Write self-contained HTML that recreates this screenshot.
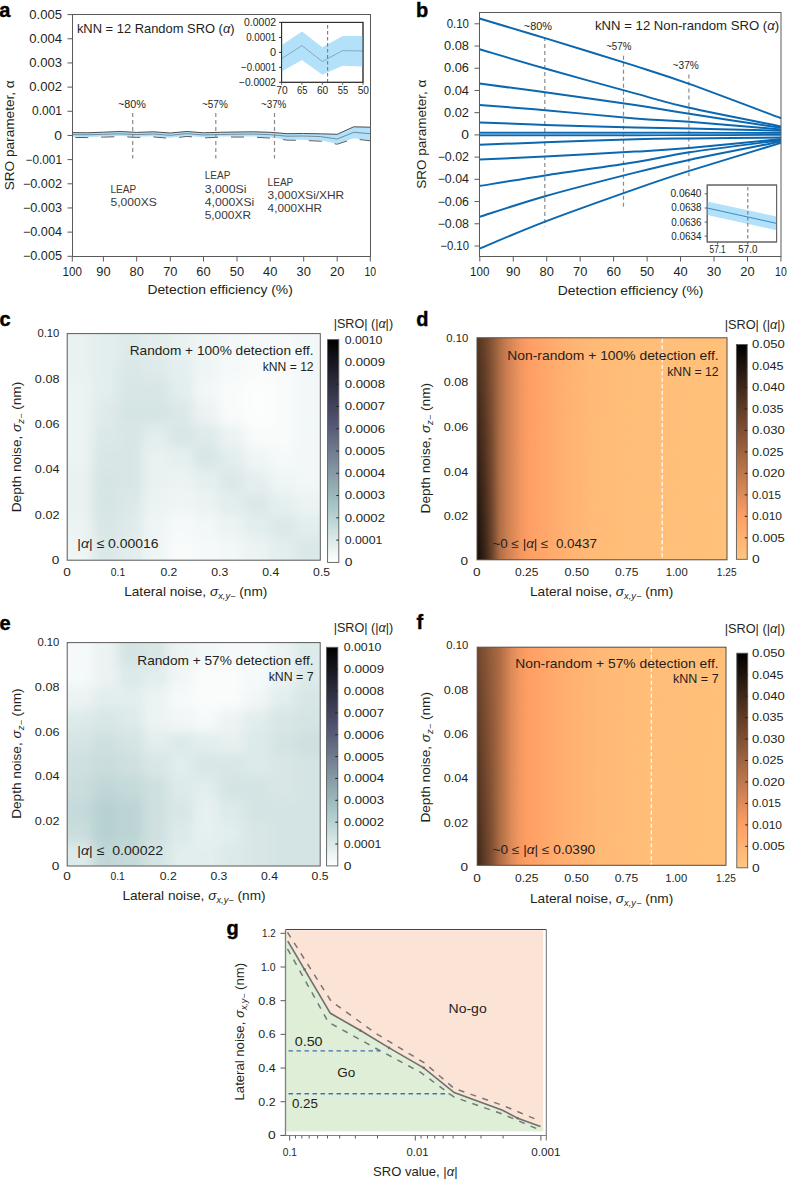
<!DOCTYPE html>
<html><head><meta charset="utf-8"><title>Figure</title>
<style>
html,body{margin:0;padding:0;background:#fff;}
svg{display:block;}
text{font-family:"Liberation Sans",sans-serif;fill:#231f20;}
</style></head>
<body>
<svg width="787" height="1179" viewBox="0 0 787 1179">
<defs><clipPath id="hcc"><rect x="67.20" y="333.60" width="253.10" height="226.60"/></clipPath><filter id="hcf" x="-50%" y="-50%" width="200%" height="200%"><feGaussianBlur stdDeviation="6"/></filter><linearGradient id="cbc" x1="0" y1="0" x2="0" y2="1"><stop offset="0.000" stop-color="#000000"/><stop offset="0.050" stop-color="#0b0b10"/><stop offset="0.100" stop-color="#16161f"/><stop offset="0.150" stop-color="#21212f"/><stop offset="0.200" stop-color="#2d2d3e"/><stop offset="0.250" stop-color="#38384e"/><stop offset="0.300" stop-color="#43435d"/><stop offset="0.350" stop-color="#4e4e6d"/><stop offset="0.400" stop-color="#595c79"/><stop offset="0.450" stop-color="#646c84"/><stop offset="0.500" stop-color="#707b8f"/><stop offset="0.550" stop-color="#7b8a9b"/><stop offset="0.600" stop-color="#869aa6"/><stop offset="0.650" stop-color="#91a9b1"/><stop offset="0.700" stop-color="#9cb8bc"/><stop offset="0.750" stop-color="#a8c7c7"/><stop offset="0.800" stop-color="#b9d2d2"/><stop offset="0.850" stop-color="#cbdede"/><stop offset="0.900" stop-color="#dce9e9"/><stop offset="0.950" stop-color="#eef4f4"/><stop offset="1.000" stop-color="#ffffff"/></linearGradient><linearGradient id="hdt" x1="0" y1="0" x2="1" y2="0"><stop offset="0.0000" stop-color="#533421"/><stop offset="0.0320" stop-color="#6c442b"/><stop offset="0.0600" stop-color="#895637"/><stop offset="0.0896" stop-color="#ac6c45"/><stop offset="0.1200" stop-color="#cc7f51"/><stop offset="0.1440" stop-color="#dc8958"/><stop offset="0.1760" stop-color="#f29760"/><stop offset="0.2120" stop-color="#ff9f65"/><stop offset="0.2480" stop-color="#ffa469"/><stop offset="0.2880" stop-color="#ffa96c"/><stop offset="0.3600" stop-color="#ffb272"/><stop offset="0.4600" stop-color="#ffba77"/><stop offset="0.6000" stop-color="#ffbe79"/><stop offset="1.0000" stop-color="#ffc17b"/></linearGradient><linearGradient id="hdb" x1="0" y1="0" x2="1" y2="0"><stop offset="0.0000" stop-color="#130c08"/><stop offset="0.0320" stop-color="#392417"/><stop offset="0.0600" stop-color="#69422a"/><stop offset="0.0896" stop-color="#ac6c45"/><stop offset="0.1200" stop-color="#cc7f51"/><stop offset="0.1440" stop-color="#dc8958"/><stop offset="0.1760" stop-color="#f29760"/><stop offset="0.2120" stop-color="#ff9f65"/><stop offset="0.2480" stop-color="#ffa469"/><stop offset="0.2880" stop-color="#ffa96c"/><stop offset="0.3600" stop-color="#ffb272"/><stop offset="0.4600" stop-color="#ffba77"/><stop offset="0.6000" stop-color="#ffbe79"/><stop offset="1.0000" stop-color="#ffc17b"/></linearGradient><linearGradient id="hdmg" x1="0" y1="0" x2="0" y2="1"><stop offset="0" stop-color="#fff" stop-opacity="0"/><stop offset="1" stop-color="#fff" stop-opacity="1"/></linearGradient><mask id="hdm" maskUnits="userSpaceOnUse" x="477.0" y="337.8" width="250.0" height="221.99999999999994"><rect x="477.0" y="337.8" width="250.0" height="221.99999999999994" fill="url(#hdmg)"/></mask><linearGradient id="cbd" x1="0" y1="0" x2="0" y2="1"><stop offset="0.000" stop-color="#000000"/><stop offset="0.050" stop-color="#100a06"/><stop offset="0.100" stop-color="#20140d"/><stop offset="0.150" stop-color="#301e13"/><stop offset="0.200" stop-color="#402819"/><stop offset="0.250" stop-color="#503220"/><stop offset="0.300" stop-color="#603c26"/><stop offset="0.350" stop-color="#70462c"/><stop offset="0.400" stop-color="#805033"/><stop offset="0.450" stop-color="#8f5a39"/><stop offset="0.500" stop-color="#9f643f"/><stop offset="0.550" stop-color="#af6e46"/><stop offset="0.600" stop-color="#bf784c"/><stop offset="0.650" stop-color="#cf8152"/><stop offset="0.700" stop-color="#df8b59"/><stop offset="0.750" stop-color="#ef955f"/><stop offset="0.800" stop-color="#ff9f65"/><stop offset="0.850" stop-color="#ffa96c"/><stop offset="0.900" stop-color="#ffb372"/><stop offset="0.950" stop-color="#ffbd79"/><stop offset="1.000" stop-color="#ffc77f"/></linearGradient><clipPath id="hec"><rect x="67.20" y="642.60" width="253.00" height="223.40"/></clipPath><filter id="hef" x="-50%" y="-50%" width="200%" height="200%"><feGaussianBlur stdDeviation="6"/></filter><linearGradient id="cbe" x1="0" y1="0" x2="0" y2="1"><stop offset="0.000" stop-color="#000000"/><stop offset="0.050" stop-color="#0b0b10"/><stop offset="0.100" stop-color="#16161f"/><stop offset="0.150" stop-color="#21212f"/><stop offset="0.200" stop-color="#2d2d3e"/><stop offset="0.250" stop-color="#38384e"/><stop offset="0.300" stop-color="#43435d"/><stop offset="0.350" stop-color="#4e4e6d"/><stop offset="0.400" stop-color="#595c79"/><stop offset="0.450" stop-color="#646c84"/><stop offset="0.500" stop-color="#707b8f"/><stop offset="0.550" stop-color="#7b8a9b"/><stop offset="0.600" stop-color="#869aa6"/><stop offset="0.650" stop-color="#91a9b1"/><stop offset="0.700" stop-color="#9cb8bc"/><stop offset="0.750" stop-color="#a8c7c7"/><stop offset="0.800" stop-color="#b9d2d2"/><stop offset="0.850" stop-color="#cbdede"/><stop offset="0.900" stop-color="#dce9e9"/><stop offset="0.950" stop-color="#eef4f4"/><stop offset="1.000" stop-color="#ffffff"/></linearGradient><linearGradient id="hft" x1="0" y1="0" x2="1" y2="0"><stop offset="0.0000" stop-color="#70462c"/><stop offset="0.0322" stop-color="#865435"/><stop offset="0.0603" stop-color="#99603d"/><stop offset="0.0900" stop-color="#ac6c45"/><stop offset="0.1206" stop-color="#cc7f51"/><stop offset="0.1367" stop-color="#dc8958"/><stop offset="0.1688" stop-color="#f29760"/><stop offset="0.2050" stop-color="#ff9f65"/><stop offset="0.2492" stop-color="#ffa368"/><stop offset="0.3095" stop-color="#ffab6d"/><stop offset="0.3818" stop-color="#ffb171"/><stop offset="0.4944" stop-color="#ffb976"/><stop offset="0.6953" stop-color="#ffbe79"/><stop offset="1.0000" stop-color="#ffc07a"/></linearGradient><linearGradient id="hfb" x1="0" y1="0" x2="1" y2="0"><stop offset="0.0000" stop-color="#402819"/><stop offset="0.0322" stop-color="#603c26"/><stop offset="0.0603" stop-color="#805033"/><stop offset="0.0900" stop-color="#ac6c45"/><stop offset="0.1206" stop-color="#cc7f51"/><stop offset="0.1367" stop-color="#dc8958"/><stop offset="0.1688" stop-color="#f29760"/><stop offset="0.2050" stop-color="#ff9f65"/><stop offset="0.2492" stop-color="#ffa368"/><stop offset="0.3095" stop-color="#ffab6d"/><stop offset="0.3818" stop-color="#ffb171"/><stop offset="0.4944" stop-color="#ffb976"/><stop offset="0.6953" stop-color="#ffbe79"/><stop offset="1.0000" stop-color="#ffc07a"/></linearGradient><linearGradient id="hfmg" x1="0" y1="0" x2="0" y2="1"><stop offset="0" stop-color="#fff" stop-opacity="0"/><stop offset="1" stop-color="#fff" stop-opacity="1"/></linearGradient><mask id="hfm" maskUnits="userSpaceOnUse" x="477.2" y="647.2" width="248.8" height="218.0999999999999"><rect x="477.2" y="647.2" width="248.8" height="218.0999999999999" fill="url(#hfmg)"/></mask><linearGradient id="cbf" x1="0" y1="0" x2="0" y2="1"><stop offset="0.000" stop-color="#000000"/><stop offset="0.050" stop-color="#100a06"/><stop offset="0.100" stop-color="#20140d"/><stop offset="0.150" stop-color="#301e13"/><stop offset="0.200" stop-color="#402819"/><stop offset="0.250" stop-color="#503220"/><stop offset="0.300" stop-color="#603c26"/><stop offset="0.350" stop-color="#70462c"/><stop offset="0.400" stop-color="#805033"/><stop offset="0.450" stop-color="#8f5a39"/><stop offset="0.500" stop-color="#9f643f"/><stop offset="0.550" stop-color="#af6e46"/><stop offset="0.600" stop-color="#bf784c"/><stop offset="0.650" stop-color="#cf8152"/><stop offset="0.700" stop-color="#df8b59"/><stop offset="0.750" stop-color="#ef955f"/><stop offset="0.800" stop-color="#ff9f65"/><stop offset="0.850" stop-color="#ffa96c"/><stop offset="0.900" stop-color="#ffb372"/><stop offset="0.950" stop-color="#ffbd79"/><stop offset="1.000" stop-color="#ffc77f"/></linearGradient></defs>
<rect width="787" height="1179" fill="#fff"/>
<text x="-0.80" y="16.60" font-size="20" font-weight="bold" style="stroke:#000;stroke-width:0.4;fill:#000">a</text>
<path d="M72.30,132.60 L87.85,132.80 L103.40,132.20 L120.05,131.50 L136.70,132.40 L153.50,131.80 L170.30,133.00 L186.90,131.50 L203.50,132.80 L220.25,132.30 L237.00,132.00 L253.60,131.80 L270.20,132.30 L286.95,133.70 L303.70,133.50 L320.45,133.80 L337.20,134.30 L353.75,126.80 L370.30,127.20 L370.30,140.20 L353.75,138.20 L337.20,143.60 L320.45,140.60 L303.70,139.80 L286.95,139.50 L270.20,137.50 L253.60,136.50 L237.00,136.40 L220.25,136.60 L203.50,137.30 L186.90,135.80 L170.30,137.80 L153.50,136.30 L136.70,136.80 L120.05,136.00 L103.40,136.50 L87.85,137.00 L72.30,136.80 Z" fill="#b2e1f9"/>
<path d="M72.30,134.60 L87.85,134.80 L103.40,134.30 L120.05,133.80 L136.70,134.60 L153.50,134.00 L170.30,135.30 L186.90,133.60 L203.50,135.00 L220.25,134.50 L237.00,134.20 L253.60,134.00 L270.20,134.70 L286.95,136.20 L303.70,136.00 L320.45,136.60 L337.20,139.00 L353.75,132.30 L370.30,133.70" fill="none" stroke="#5f7686" stroke-width="0.8"/>
<path d="M72.30,132.60 L87.85,132.80 L103.40,132.20 L120.05,131.50 L136.70,132.40 L153.50,131.80 L170.30,133.00 L186.90,131.50 L203.50,132.80 L220.25,132.30 L237.00,132.00 L253.60,131.80 L270.20,132.30 L286.95,133.70 L303.70,133.50 L320.45,133.80 L337.20,134.30 L353.75,126.80 L370.30,127.20" fill="none" stroke="#4d4d4d" stroke-width="1.0"/>
<path d="M72.30,137.40 L87.85,137.60 L103.40,137.10 L120.05,136.60 L136.70,137.40 L153.50,136.90 L170.30,138.40 L186.90,136.40 L203.50,137.90 L220.25,137.20 L237.00,137.00 L253.60,137.10 L270.20,138.10 L286.95,140.10 L303.70,140.40 L320.45,141.20 L337.20,144.20 L353.75,138.80 L370.30,140.80" fill="none" stroke="#5a5a5a" stroke-width="1.0" stroke-dasharray="13 13" stroke-dashoffset="-3"/>
<line x1="132.70" y1="113.00" x2="132.70" y2="158.50" stroke="#8a8a8a" stroke-width="1.2" stroke-dasharray="4 3"/>
<line x1="215.80" y1="113.00" x2="215.80" y2="158.50" stroke="#8a8a8a" stroke-width="1.2" stroke-dasharray="4 3"/>
<line x1="274.50" y1="113.00" x2="274.50" y2="158.50" stroke="#8a8a8a" stroke-width="1.2" stroke-dasharray="4 3"/>
<text x="118.00" y="107.90" font-size="11.8" textLength="27.80" lengthAdjust="spacingAndGlyphs">~80%</text>
<text x="201.90" y="107.80" font-size="11.8" textLength="25.90" lengthAdjust="spacingAndGlyphs">~57%</text>
<text x="260.90" y="107.80" font-size="11.8" textLength="25.50" lengthAdjust="spacingAndGlyphs">~37%</text>
<text x="110.50" y="193.00" font-size="10.5" textLength="25.70" lengthAdjust="spacingAndGlyphs" style="fill:#3a3a3a">LEAP</text>
<text x="110.50" y="206.30" font-size="10.5" textLength="46.30" lengthAdjust="spacingAndGlyphs" style="fill:#3a3a3a">5,000XS</text>
<text x="204.70" y="179.30" font-size="10.5" textLength="25.70" lengthAdjust="spacingAndGlyphs" style="fill:#3a3a3a">LEAP</text>
<text x="204.70" y="192.60" font-size="10.5" textLength="41.90" lengthAdjust="spacingAndGlyphs" style="fill:#3a3a3a">3,000Si</text>
<text x="204.70" y="206.00" font-size="10.5" textLength="49.60" lengthAdjust="spacingAndGlyphs" style="fill:#3a3a3a">4,000XSi</text>
<text x="204.70" y="219.30" font-size="10.5" textLength="46.30" lengthAdjust="spacingAndGlyphs" style="fill:#3a3a3a">5,000XR</text>
<text x="267.60" y="185.60" font-size="10.5" textLength="25.70" lengthAdjust="spacingAndGlyphs" style="fill:#3a3a3a">LEAP</text>
<text x="267.60" y="199.20" font-size="10.5" textLength="76.60" lengthAdjust="spacingAndGlyphs" style="fill:#3a3a3a">3,000XSi/XHR</text>
<text x="267.60" y="212.40" font-size="10.5" textLength="54.30" lengthAdjust="spacingAndGlyphs" style="fill:#3a3a3a">4,000XHR</text>
<rect x="72.50" y="14.50" width="298.00" height="242.00" fill="none" stroke="#5a5a5a" stroke-width="1"/>
<line x1="67.50" y1="14.60" x2="72.50" y2="14.60" stroke="#5a5a5a" stroke-width="1"/>
<text x="62.00" y="18.70" font-size="12.0" text-anchor="end" textLength="32.67" lengthAdjust="spacingAndGlyphs">0.005</text>
<line x1="67.50" y1="38.77" x2="72.50" y2="38.77" stroke="#5a5a5a" stroke-width="1"/>
<text x="62.00" y="42.87" font-size="12.0" text-anchor="end" textLength="32.67" lengthAdjust="spacingAndGlyphs">0.004</text>
<line x1="67.50" y1="62.94" x2="72.50" y2="62.94" stroke="#5a5a5a" stroke-width="1"/>
<text x="62.00" y="67.04" font-size="12.0" text-anchor="end" textLength="32.67" lengthAdjust="spacingAndGlyphs">0.003</text>
<line x1="67.50" y1="87.11" x2="72.50" y2="87.11" stroke="#5a5a5a" stroke-width="1"/>
<text x="62.00" y="91.21" font-size="12.0" text-anchor="end" textLength="32.67" lengthAdjust="spacingAndGlyphs">0.002</text>
<line x1="67.50" y1="111.28" x2="72.50" y2="111.28" stroke="#5a5a5a" stroke-width="1"/>
<text x="62.00" y="115.38" font-size="12.0" text-anchor="end" textLength="30.03" lengthAdjust="spacingAndGlyphs">0.001</text>
<line x1="67.50" y1="135.45" x2="72.50" y2="135.45" stroke="#5a5a5a" stroke-width="1"/>
<text x="62.00" y="139.55" font-size="12.0" text-anchor="end" textLength="7.70" lengthAdjust="spacingAndGlyphs">0</text>
<line x1="67.50" y1="159.62" x2="72.50" y2="159.62" stroke="#5a5a5a" stroke-width="1"/>
<text x="62.00" y="163.72" font-size="12.0" text-anchor="end" textLength="36.41" lengthAdjust="spacingAndGlyphs">−0.001</text>
<line x1="67.50" y1="183.79" x2="72.50" y2="183.79" stroke="#5a5a5a" stroke-width="1"/>
<text x="62.00" y="187.89" font-size="12.0" text-anchor="end" textLength="39.05" lengthAdjust="spacingAndGlyphs">−0.002</text>
<line x1="67.50" y1="207.96" x2="72.50" y2="207.96" stroke="#5a5a5a" stroke-width="1"/>
<text x="62.00" y="212.06" font-size="12.0" text-anchor="end" textLength="39.05" lengthAdjust="spacingAndGlyphs">−0.003</text>
<line x1="67.50" y1="232.13" x2="72.50" y2="232.13" stroke="#5a5a5a" stroke-width="1"/>
<text x="62.00" y="236.23" font-size="12.0" text-anchor="end" textLength="39.05" lengthAdjust="spacingAndGlyphs">−0.004</text>
<line x1="67.50" y1="256.30" x2="72.50" y2="256.30" stroke="#5a5a5a" stroke-width="1"/>
<text x="62.00" y="260.40" font-size="12.0" text-anchor="end" textLength="39.05" lengthAdjust="spacingAndGlyphs">−0.005</text>
<line x1="72.30" y1="256.50" x2="72.30" y2="261.50" stroke="#5a5a5a" stroke-width="1"/>
<text x="72.30" y="275.70" font-size="12.0" text-anchor="middle" textLength="19.36" lengthAdjust="spacingAndGlyphs">100</text>
<line x1="103.40" y1="256.50" x2="103.40" y2="261.50" stroke="#5a5a5a" stroke-width="1"/>
<text x="103.40" y="275.70" font-size="12.0" text-anchor="middle" textLength="14.30" lengthAdjust="spacingAndGlyphs">90</text>
<line x1="136.70" y1="256.50" x2="136.70" y2="261.50" stroke="#5a5a5a" stroke-width="1"/>
<text x="136.70" y="275.70" font-size="12.0" text-anchor="middle" textLength="14.30" lengthAdjust="spacingAndGlyphs">80</text>
<line x1="170.30" y1="256.50" x2="170.30" y2="261.50" stroke="#5a5a5a" stroke-width="1"/>
<text x="170.30" y="275.70" font-size="12.0" text-anchor="middle" textLength="14.30" lengthAdjust="spacingAndGlyphs">70</text>
<line x1="203.50" y1="256.50" x2="203.50" y2="261.50" stroke="#5a5a5a" stroke-width="1"/>
<text x="203.50" y="275.70" font-size="12.0" text-anchor="middle" textLength="14.30" lengthAdjust="spacingAndGlyphs">60</text>
<line x1="237.00" y1="256.50" x2="237.00" y2="261.50" stroke="#5a5a5a" stroke-width="1"/>
<text x="237.00" y="275.70" font-size="12.0" text-anchor="middle" textLength="14.30" lengthAdjust="spacingAndGlyphs">50</text>
<line x1="270.20" y1="256.50" x2="270.20" y2="261.50" stroke="#5a5a5a" stroke-width="1"/>
<text x="270.20" y="275.70" font-size="12.0" text-anchor="middle" textLength="14.30" lengthAdjust="spacingAndGlyphs">40</text>
<line x1="303.70" y1="256.50" x2="303.70" y2="261.50" stroke="#5a5a5a" stroke-width="1"/>
<text x="303.70" y="275.70" font-size="12.0" text-anchor="middle" textLength="14.30" lengthAdjust="spacingAndGlyphs">30</text>
<line x1="337.20" y1="256.50" x2="337.20" y2="261.50" stroke="#5a5a5a" stroke-width="1"/>
<text x="337.20" y="275.70" font-size="12.0" text-anchor="middle" textLength="14.30" lengthAdjust="spacingAndGlyphs">20</text>
<line x1="370.30" y1="256.50" x2="370.30" y2="261.50" stroke="#5a5a5a" stroke-width="1"/>
<text x="370.30" y="275.70" font-size="12.0" text-anchor="middle" textLength="11.66" lengthAdjust="spacingAndGlyphs">10</text>
<text x="220.10" y="294.40" font-size="12.4" text-anchor="middle" textLength="145.40" lengthAdjust="spacingAndGlyphs">Detection efficiency (%)</text>
<text x="14.20" y="135.30" font-size="12.8" text-anchor="middle" textLength="110.00" lengthAdjust="spacingAndGlyphs" transform="rotate(-90 14.20 135.30)">SRO parameter, α</text>
<text x="76.90" y="33.10" font-size="13.2" textLength="157.70" lengthAdjust="spacingAndGlyphs">kNN = 12 Random SRO (<tspan font-style="italic">α</tspan>)</text>
<rect x="281.60" y="22.40" width="81.40" height="59.90" fill="#fff" stroke="#5a5a5a" stroke-width="1"/>
<path d="M281.60,45.30 L301.95,31.50 L322.30,47.20 L342.65,36.10 L363.00,36.10 L363.00,66.60 L342.65,65.80 L322.30,74.80 L301.95,59.90 L281.60,71.40 Z" fill="#b2e1f9"/>
<path d="M281.60,58.60 L301.95,45.60 L322.30,61.50 L342.65,50.60 L363.00,51.00" fill="none" stroke="#7a9cb8" stroke-width="0.8"/>
<line x1="327.60" y1="25.00" x2="327.60" y2="82.00" stroke="#7a7a7a" stroke-width="1.1" stroke-dasharray="3.5 2.5"/>
<rect x="281.60" y="22.40" width="81.40" height="59.90" fill="none" stroke="#2a2a2a" stroke-width="1"/>
<line x1="279.10" y1="22.40" x2="281.60" y2="22.40" stroke="#2a2a2a" stroke-width="1"/>
<text x="276.00" y="25.80" font-size="10.0" text-anchor="end" textLength="31.93" lengthAdjust="spacingAndGlyphs">0.0002</text>
<line x1="279.10" y1="37.38" x2="281.60" y2="37.38" stroke="#2a2a2a" stroke-width="1"/>
<text x="276.00" y="40.77" font-size="10.0" text-anchor="end" textLength="29.84" lengthAdjust="spacingAndGlyphs">0.0001</text>
<line x1="279.10" y1="52.35" x2="281.60" y2="52.35" stroke="#2a2a2a" stroke-width="1"/>
<text x="276.00" y="55.75" font-size="10.0" text-anchor="end" textLength="6.09" lengthAdjust="spacingAndGlyphs">0</text>
<line x1="279.10" y1="67.32" x2="281.60" y2="67.32" stroke="#2a2a2a" stroke-width="1"/>
<text x="276.00" y="70.72" font-size="10.0" text-anchor="end" textLength="34.89" lengthAdjust="spacingAndGlyphs">−0.0001</text>
<line x1="279.10" y1="82.30" x2="281.60" y2="82.30" stroke="#2a2a2a" stroke-width="1"/>
<text x="276.00" y="85.70" font-size="10.0" text-anchor="end" textLength="36.97" lengthAdjust="spacingAndGlyphs">−0.0002</text>
<line x1="281.60" y1="82.30" x2="281.60" y2="84.80" stroke="#5a5a5a" stroke-width="1"/>
<text x="281.90" y="93.70" font-size="10.0" text-anchor="middle" textLength="11.31" lengthAdjust="spacingAndGlyphs">70</text>
<line x1="301.95" y1="82.30" x2="301.95" y2="84.80" stroke="#5a5a5a" stroke-width="1"/>
<text x="302.25" y="93.70" font-size="10.0" text-anchor="middle" textLength="10.44" lengthAdjust="spacingAndGlyphs">65</text>
<line x1="322.30" y1="82.30" x2="322.30" y2="84.80" stroke="#5a5a5a" stroke-width="1"/>
<text x="322.60" y="93.70" font-size="10.0" text-anchor="middle" textLength="11.31" lengthAdjust="spacingAndGlyphs">60</text>
<line x1="342.65" y1="82.30" x2="342.65" y2="84.80" stroke="#5a5a5a" stroke-width="1"/>
<text x="342.95" y="93.70" font-size="10.0" text-anchor="middle" textLength="10.44" lengthAdjust="spacingAndGlyphs">55</text>
<line x1="363.00" y1="82.30" x2="363.00" y2="84.80" stroke="#5a5a5a" stroke-width="1"/>
<text x="363.30" y="93.70" font-size="10.0" text-anchor="middle" textLength="11.31" lengthAdjust="spacingAndGlyphs">50</text>
<text x="416.00" y="16.80" font-size="20" font-weight="bold" style="stroke:#000;stroke-width:0.4;fill:#000">b</text>
<line x1="544.80" y1="37.00" x2="544.80" y2="226.50" stroke="#8a8a8a" stroke-width="1.2" stroke-dasharray="4 3"/>
<line x1="623.50" y1="55.80" x2="623.50" y2="207.00" stroke="#8a8a8a" stroke-width="1.2" stroke-dasharray="4 3"/>
<line x1="688.90" y1="74.50" x2="688.90" y2="176.00" stroke="#8a8a8a" stroke-width="1.2" stroke-dasharray="4 3"/>
<text x="523.80" y="29.80" font-size="11.2" textLength="28.20" lengthAdjust="spacingAndGlyphs">~80%</text>
<text x="606.20" y="49.80" font-size="11.2" textLength="25.10" lengthAdjust="spacingAndGlyphs">~57%</text>
<text x="672.60" y="69.40" font-size="11.2" textLength="26.20" lengthAdjust="spacingAndGlyphs">~37%</text>
<path d="M479.50,134.00 C490.43,134.00 519.18,134.00 545.10,134.00 C571.02,134.00 610.98,134.00 635.00,134.00 C659.02,134.00 664.87,134.03 689.20,134.00 C713.53,133.97 765.70,133.83 781.00,133.80" fill="none" stroke="#5d9bd0" stroke-width="1.2"/>
<path d="M479.50,18.50 C490.43,21.77 519.18,30.20 545.10,38.10 C571.02,46.00 610.98,58.27 635.00,65.90 C659.02,73.53 664.87,75.18 689.20,83.90 C713.53,92.62 765.70,112.48 781.00,118.20" fill="none" stroke="#0b68b0" stroke-width="2"/>
<path d="M479.50,49.20 C490.43,52.42 519.18,61.13 545.10,68.50 C571.02,75.87 610.98,86.85 635.00,93.40 C659.02,99.95 664.87,102.30 689.20,107.80 C713.53,113.30 765.70,123.30 781.00,126.40" fill="none" stroke="#0b68b0" stroke-width="2"/>
<path d="M479.50,83.60 C490.43,85.05 519.18,88.72 545.10,92.30 C571.02,95.88 610.98,101.52 635.00,105.10 C659.02,108.68 664.87,110.02 689.20,113.80 C713.53,117.58 765.70,125.47 781.00,127.80" fill="none" stroke="#0b68b0" stroke-width="2"/>
<path d="M479.50,104.90 C490.43,105.78 519.18,107.95 545.10,110.20 C571.02,112.45 610.98,116.47 635.00,118.40 C659.02,120.33 664.87,119.97 689.20,121.80 C713.53,123.63 765.70,128.13 781.00,129.40" fill="none" stroke="#0b68b0" stroke-width="2"/>
<path d="M479.50,122.40 C490.43,122.82 519.18,124.05 545.10,124.90 C571.02,125.75 610.98,126.92 635.00,127.50 C659.02,128.08 664.87,127.85 689.20,128.40 C713.53,128.95 765.70,130.40 781.00,130.80" fill="none" stroke="#0b68b0" stroke-width="2"/>
<path d="M479.50,132.60 C490.43,132.60 519.18,132.60 545.10,132.60 C571.02,132.60 610.98,132.58 635.00,132.60 C659.02,132.62 664.87,132.67 689.20,132.70 C713.53,132.73 765.70,132.78 781.00,132.80" fill="none" stroke="#0b68b0" stroke-width="1.7"/>
<path d="M479.50,135.30 C490.43,135.30 519.18,135.30 545.10,135.30 C571.02,135.30 610.98,135.32 635.00,135.30 C659.02,135.28 664.87,135.28 689.20,135.20 C713.53,135.12 765.70,134.87 781.00,134.80" fill="none" stroke="#0b68b0" stroke-width="1.7"/>
<path d="M479.50,144.70 C490.43,144.30 519.18,143.20 545.10,142.30 C571.02,141.40 610.98,139.95 635.00,139.30 C659.02,138.65 664.87,138.68 689.20,138.40 C713.53,138.12 765.70,137.73 781.00,137.60" fill="none" stroke="#0b68b0" stroke-width="2"/>
<path d="M479.50,159.60 C490.43,159.08 519.18,157.83 545.10,156.50 C571.02,155.17 610.98,153.03 635.00,151.60 C659.02,150.17 664.87,150.00 689.20,147.90 C713.53,145.80 765.70,140.48 781.00,139.00" fill="none" stroke="#0b68b0" stroke-width="2"/>
<path d="M479.50,186.00 C490.43,184.23 519.18,179.37 545.10,175.40 C571.02,171.43 610.98,166.05 635.00,162.20 C659.02,158.35 664.87,155.97 689.20,152.30 C713.53,148.63 765.70,142.22 781.00,140.20" fill="none" stroke="#0b68b0" stroke-width="2"/>
<path d="M479.50,216.90 C490.43,213.45 519.18,203.58 545.10,196.20 C571.02,188.82 610.98,178.65 635.00,172.60 C659.02,166.55 664.87,165.08 689.20,159.90 C713.53,154.72 765.70,144.57 781.00,141.50" fill="none" stroke="#0b68b0" stroke-width="2"/>
<path d="M479.50,248.60 C490.43,244.10 519.18,231.52 545.10,221.60 C571.02,211.68 610.98,197.55 635.00,189.10 C659.02,180.65 664.87,178.60 689.20,170.90 C713.53,163.20 765.70,147.57 781.00,142.90" fill="none" stroke="#0b68b0" stroke-width="2"/>
<text x="595.00" y="30.30" font-size="13.2" textLength="184.10" lengthAdjust="spacingAndGlyphs">kNN = 12 Non-random SRO (<tspan font-style="italic">α</tspan>)</text>
<rect x="707.20" y="185.00" width="69.40" height="57.00" fill="#fff" stroke="#5a5a5a" stroke-width="1"/>
<path d="M707.20,201.40 L776.60,216.60 L776.60,230.20 L707.20,215.00 Z" fill="#b2e1f9"/>
<line x1="707.20" y1="208.00" x2="776.60" y2="223.40" stroke="#2f7fc0" stroke-width="0.9"/>
<line x1="747.80" y1="187.00" x2="747.80" y2="241.50" stroke="#7a7a7a" stroke-width="1.1" stroke-dasharray="3.5 2.5"/>
<rect x="707.20" y="185.00" width="69.40" height="57.00" fill="none" stroke="#666" stroke-width="1"/>
<line x1="704.70" y1="193.80" x2="707.20" y2="193.80" stroke="#5a5a5a" stroke-width="1"/>
<text x="701.50" y="197.20" font-size="10.0" text-anchor="end" textLength="31.06" lengthAdjust="spacingAndGlyphs">0.0640</text>
<line x1="704.70" y1="208.00" x2="707.20" y2="208.00" stroke="#5a5a5a" stroke-width="1"/>
<text x="701.50" y="211.40" font-size="10.0" text-anchor="end" textLength="30.19" lengthAdjust="spacingAndGlyphs">0.0638</text>
<line x1="704.70" y1="222.10" x2="707.20" y2="222.10" stroke="#5a5a5a" stroke-width="1"/>
<text x="701.50" y="225.50" font-size="10.0" text-anchor="end" textLength="30.19" lengthAdjust="spacingAndGlyphs">0.0636</text>
<line x1="704.70" y1="236.10" x2="707.20" y2="236.10" stroke="#5a5a5a" stroke-width="1"/>
<text x="701.50" y="239.50" font-size="10.0" text-anchor="end" textLength="30.19" lengthAdjust="spacingAndGlyphs">0.0634</text>
<line x1="717.60" y1="242.00" x2="717.60" y2="244.50" stroke="#5a5a5a" stroke-width="1"/>
<text x="717.60" y="253.30" font-size="10.0" text-anchor="middle" textLength="16.10" lengthAdjust="spacingAndGlyphs">57.1</text>
<line x1="747.80" y1="242.00" x2="747.80" y2="244.50" stroke="#5a5a5a" stroke-width="1"/>
<text x="747.80" y="253.30" font-size="10.0" text-anchor="middle" textLength="19.10" lengthAdjust="spacingAndGlyphs">57.0</text>
<rect x="479.50" y="12.50" width="301.50" height="244.00" fill="none" stroke="#5a5a5a" stroke-width="1"/>
<line x1="474.50" y1="23.80" x2="479.50" y2="23.80" stroke="#5a5a5a" stroke-width="1"/>
<text x="469.00" y="27.90" font-size="12.0" text-anchor="end" textLength="22.33" lengthAdjust="spacingAndGlyphs">0.10</text>
<line x1="474.50" y1="46.02" x2="479.50" y2="46.02" stroke="#5a5a5a" stroke-width="1"/>
<text x="469.00" y="50.12" font-size="12.0" text-anchor="end" textLength="24.97" lengthAdjust="spacingAndGlyphs">0.08</text>
<line x1="474.50" y1="68.24" x2="479.50" y2="68.24" stroke="#5a5a5a" stroke-width="1"/>
<text x="469.00" y="72.34" font-size="12.0" text-anchor="end" textLength="24.97" lengthAdjust="spacingAndGlyphs">0.06</text>
<line x1="474.50" y1="90.46" x2="479.50" y2="90.46" stroke="#5a5a5a" stroke-width="1"/>
<text x="469.00" y="94.56" font-size="12.0" text-anchor="end" textLength="24.97" lengthAdjust="spacingAndGlyphs">0.04</text>
<line x1="474.50" y1="112.68" x2="479.50" y2="112.68" stroke="#5a5a5a" stroke-width="1"/>
<text x="469.00" y="116.78" font-size="12.0" text-anchor="end" textLength="24.97" lengthAdjust="spacingAndGlyphs">0.02</text>
<line x1="474.50" y1="134.90" x2="479.50" y2="134.90" stroke="#5a5a5a" stroke-width="1"/>
<text x="469.00" y="139.00" font-size="12.0" text-anchor="end" textLength="7.70" lengthAdjust="spacingAndGlyphs">0</text>
<line x1="474.50" y1="157.12" x2="479.50" y2="157.12" stroke="#5a5a5a" stroke-width="1"/>
<text x="469.00" y="161.22" font-size="12.0" text-anchor="end" textLength="31.35" lengthAdjust="spacingAndGlyphs">−0.02</text>
<line x1="474.50" y1="179.34" x2="479.50" y2="179.34" stroke="#5a5a5a" stroke-width="1"/>
<text x="469.00" y="183.44" font-size="12.0" text-anchor="end" textLength="31.35" lengthAdjust="spacingAndGlyphs">−0.04</text>
<line x1="474.50" y1="201.56" x2="479.50" y2="201.56" stroke="#5a5a5a" stroke-width="1"/>
<text x="469.00" y="205.66" font-size="12.0" text-anchor="end" textLength="31.35" lengthAdjust="spacingAndGlyphs">−0.06</text>
<line x1="474.50" y1="223.78" x2="479.50" y2="223.78" stroke="#5a5a5a" stroke-width="1"/>
<text x="469.00" y="227.88" font-size="12.0" text-anchor="end" textLength="31.35" lengthAdjust="spacingAndGlyphs">−0.08</text>
<line x1="474.50" y1="246.00" x2="479.50" y2="246.00" stroke="#5a5a5a" stroke-width="1"/>
<text x="469.00" y="250.10" font-size="12.0" text-anchor="end" textLength="28.71" lengthAdjust="spacingAndGlyphs">−0.10</text>
<line x1="479.80" y1="256.50" x2="479.80" y2="261.50" stroke="#5a5a5a" stroke-width="1"/>
<text x="479.80" y="275.90" font-size="12.0" text-anchor="middle" textLength="19.36" lengthAdjust="spacingAndGlyphs">100</text>
<line x1="513.26" y1="256.50" x2="513.26" y2="261.50" stroke="#5a5a5a" stroke-width="1"/>
<text x="513.26" y="275.90" font-size="12.0" text-anchor="middle" textLength="14.30" lengthAdjust="spacingAndGlyphs">90</text>
<line x1="546.72" y1="256.50" x2="546.72" y2="261.50" stroke="#5a5a5a" stroke-width="1"/>
<text x="546.72" y="275.90" font-size="12.0" text-anchor="middle" textLength="14.30" lengthAdjust="spacingAndGlyphs">80</text>
<line x1="580.18" y1="256.50" x2="580.18" y2="261.50" stroke="#5a5a5a" stroke-width="1"/>
<text x="580.18" y="275.90" font-size="12.0" text-anchor="middle" textLength="14.30" lengthAdjust="spacingAndGlyphs">70</text>
<line x1="613.64" y1="256.50" x2="613.64" y2="261.50" stroke="#5a5a5a" stroke-width="1"/>
<text x="613.64" y="275.90" font-size="12.0" text-anchor="middle" textLength="14.30" lengthAdjust="spacingAndGlyphs">60</text>
<line x1="647.10" y1="256.50" x2="647.10" y2="261.50" stroke="#5a5a5a" stroke-width="1"/>
<text x="647.10" y="275.90" font-size="12.0" text-anchor="middle" textLength="14.30" lengthAdjust="spacingAndGlyphs">50</text>
<line x1="680.56" y1="256.50" x2="680.56" y2="261.50" stroke="#5a5a5a" stroke-width="1"/>
<text x="680.56" y="275.90" font-size="12.0" text-anchor="middle" textLength="14.30" lengthAdjust="spacingAndGlyphs">40</text>
<line x1="714.02" y1="256.50" x2="714.02" y2="261.50" stroke="#5a5a5a" stroke-width="1"/>
<text x="714.02" y="275.90" font-size="12.0" text-anchor="middle" textLength="14.30" lengthAdjust="spacingAndGlyphs">30</text>
<line x1="747.48" y1="256.50" x2="747.48" y2="261.50" stroke="#5a5a5a" stroke-width="1"/>
<text x="747.48" y="275.90" font-size="12.0" text-anchor="middle" textLength="14.30" lengthAdjust="spacingAndGlyphs">20</text>
<line x1="780.94" y1="256.50" x2="780.94" y2="261.50" stroke="#5a5a5a" stroke-width="1"/>
<text x="780.94" y="275.90" font-size="12.0" text-anchor="middle" textLength="11.66" lengthAdjust="spacingAndGlyphs">10</text>
<text x="630.60" y="294.60" font-size="12.4" text-anchor="middle" textLength="145.70" lengthAdjust="spacingAndGlyphs">Detection efficiency (%)</text>
<text x="426.50" y="134.20" font-size="12.8" text-anchor="middle" textLength="109.00" lengthAdjust="spacingAndGlyphs" transform="rotate(-90 426.50 134.20)">SRO parameter, α</text>
<text x="-0.60" y="326.00" font-size="20" font-weight="bold" style="stroke:#000;stroke-width:0.4;fill:#000">c</text>
<g clip-path="url(#hcc)"><g filter="url(#hcf)"><rect x="-8.73" y="265.62" width="25.91" height="23.26" fill="#e9f1f1"/><rect x="16.58" y="265.62" width="25.91" height="23.26" fill="#e9f1f1"/><rect x="41.89" y="265.62" width="25.91" height="23.26" fill="#e9f1f1"/><rect x="67.20" y="265.62" width="25.91" height="23.26" fill="#e9f1f1"/><rect x="92.51" y="265.62" width="25.91" height="23.26" fill="#e2eded"/><rect x="117.82" y="265.62" width="25.91" height="23.26" fill="#dfeaea"/><rect x="143.13" y="265.62" width="25.91" height="23.26" fill="#e2eded"/><rect x="168.44" y="265.62" width="25.91" height="23.26" fill="#e9f1f1"/><rect x="193.75" y="265.62" width="25.91" height="23.26" fill="#eff5f5"/><rect x="219.06" y="265.62" width="25.91" height="23.26" fill="#f2f7f7"/><rect x="244.37" y="265.62" width="25.91" height="23.26" fill="#f5f9f9"/><rect x="269.68" y="265.62" width="25.91" height="23.26" fill="#f5f9f9"/><rect x="294.99" y="265.62" width="25.91" height="23.26" fill="#f2f7f7"/><rect x="320.30" y="265.62" width="25.91" height="23.26" fill="#f2f7f7"/><rect x="345.61" y="265.62" width="25.91" height="23.26" fill="#f2f7f7"/><rect x="370.92" y="265.62" width="25.91" height="23.26" fill="#f2f7f7"/><rect x="-8.73" y="288.28" width="25.91" height="23.26" fill="#e9f1f1"/><rect x="16.58" y="288.28" width="25.91" height="23.26" fill="#e9f1f1"/><rect x="41.89" y="288.28" width="25.91" height="23.26" fill="#e9f1f1"/><rect x="67.20" y="288.28" width="25.91" height="23.26" fill="#e9f1f1"/><rect x="92.51" y="288.28" width="25.91" height="23.26" fill="#e2eded"/><rect x="117.82" y="288.28" width="25.91" height="23.26" fill="#dfeaea"/><rect x="143.13" y="288.28" width="25.91" height="23.26" fill="#e2eded"/><rect x="168.44" y="288.28" width="25.91" height="23.26" fill="#e9f1f1"/><rect x="193.75" y="288.28" width="25.91" height="23.26" fill="#eff5f5"/><rect x="219.06" y="288.28" width="25.91" height="23.26" fill="#f2f7f7"/><rect x="244.37" y="288.28" width="25.91" height="23.26" fill="#f5f9f9"/><rect x="269.68" y="288.28" width="25.91" height="23.26" fill="#f5f9f9"/><rect x="294.99" y="288.28" width="25.91" height="23.26" fill="#f2f7f7"/><rect x="320.30" y="288.28" width="25.91" height="23.26" fill="#f2f7f7"/><rect x="345.61" y="288.28" width="25.91" height="23.26" fill="#f2f7f7"/><rect x="370.92" y="288.28" width="25.91" height="23.26" fill="#f2f7f7"/><rect x="-8.73" y="310.94" width="25.91" height="23.26" fill="#e9f1f1"/><rect x="16.58" y="310.94" width="25.91" height="23.26" fill="#e9f1f1"/><rect x="41.89" y="310.94" width="25.91" height="23.26" fill="#e9f1f1"/><rect x="67.20" y="310.94" width="25.91" height="23.26" fill="#e9f1f1"/><rect x="92.51" y="310.94" width="25.91" height="23.26" fill="#e2eded"/><rect x="117.82" y="310.94" width="25.91" height="23.26" fill="#dfeaea"/><rect x="143.13" y="310.94" width="25.91" height="23.26" fill="#e2eded"/><rect x="168.44" y="310.94" width="25.91" height="23.26" fill="#e9f1f1"/><rect x="193.75" y="310.94" width="25.91" height="23.26" fill="#eff5f5"/><rect x="219.06" y="310.94" width="25.91" height="23.26" fill="#f2f7f7"/><rect x="244.37" y="310.94" width="25.91" height="23.26" fill="#f5f9f9"/><rect x="269.68" y="310.94" width="25.91" height="23.26" fill="#f5f9f9"/><rect x="294.99" y="310.94" width="25.91" height="23.26" fill="#f2f7f7"/><rect x="320.30" y="310.94" width="25.91" height="23.26" fill="#f2f7f7"/><rect x="345.61" y="310.94" width="25.91" height="23.26" fill="#f2f7f7"/><rect x="370.92" y="310.94" width="25.91" height="23.26" fill="#f2f7f7"/><rect x="-8.73" y="333.60" width="25.91" height="23.26" fill="#e9f1f1"/><rect x="16.58" y="333.60" width="25.91" height="23.26" fill="#e9f1f1"/><rect x="41.89" y="333.60" width="25.91" height="23.26" fill="#e9f1f1"/><rect x="67.20" y="333.60" width="25.91" height="23.26" fill="#e9f1f1"/><rect x="92.51" y="333.60" width="25.91" height="23.26" fill="#e2eded"/><rect x="117.82" y="333.60" width="25.91" height="23.26" fill="#dfeaea"/><rect x="143.13" y="333.60" width="25.91" height="23.26" fill="#e2eded"/><rect x="168.44" y="333.60" width="25.91" height="23.26" fill="#e9f1f1"/><rect x="193.75" y="333.60" width="25.91" height="23.26" fill="#eff5f5"/><rect x="219.06" y="333.60" width="25.91" height="23.26" fill="#f2f7f7"/><rect x="244.37" y="333.60" width="25.91" height="23.26" fill="#f5f9f9"/><rect x="269.68" y="333.60" width="25.91" height="23.26" fill="#f5f9f9"/><rect x="294.99" y="333.60" width="25.91" height="23.26" fill="#f2f7f7"/><rect x="320.30" y="333.60" width="25.91" height="23.26" fill="#f2f7f7"/><rect x="345.61" y="333.60" width="25.91" height="23.26" fill="#f2f7f7"/><rect x="370.92" y="333.60" width="25.91" height="23.26" fill="#f2f7f7"/><rect x="-8.73" y="356.26" width="25.91" height="23.26" fill="#e9f1f1"/><rect x="16.58" y="356.26" width="25.91" height="23.26" fill="#e9f1f1"/><rect x="41.89" y="356.26" width="25.91" height="23.26" fill="#e9f1f1"/><rect x="67.20" y="356.26" width="25.91" height="23.26" fill="#e9f1f1"/><rect x="92.51" y="356.26" width="25.91" height="23.26" fill="#e2eded"/><rect x="117.82" y="356.26" width="25.91" height="23.26" fill="#dce8e8"/><rect x="143.13" y="356.26" width="25.91" height="23.26" fill="#dfeaea"/><rect x="168.44" y="356.26" width="25.91" height="23.26" fill="#e5efef"/><rect x="193.75" y="356.26" width="25.91" height="23.26" fill="#eff5f5"/><rect x="219.06" y="356.26" width="25.91" height="23.26" fill="#f5f9f9"/><rect x="244.37" y="356.26" width="25.91" height="23.26" fill="#f9fbfb"/><rect x="269.68" y="356.26" width="25.91" height="23.26" fill="#f9fbfb"/><rect x="294.99" y="356.26" width="25.91" height="23.26" fill="#f2f7f7"/><rect x="320.30" y="356.26" width="25.91" height="23.26" fill="#f2f7f7"/><rect x="345.61" y="356.26" width="25.91" height="23.26" fill="#f2f7f7"/><rect x="370.92" y="356.26" width="25.91" height="23.26" fill="#f2f7f7"/><rect x="-8.73" y="378.92" width="25.91" height="23.26" fill="#ecf3f3"/><rect x="16.58" y="378.92" width="25.91" height="23.26" fill="#ecf3f3"/><rect x="41.89" y="378.92" width="25.91" height="23.26" fill="#ecf3f3"/><rect x="67.20" y="378.92" width="25.91" height="23.26" fill="#ecf3f3"/><rect x="92.51" y="378.92" width="25.91" height="23.26" fill="#e2eded"/><rect x="117.82" y="378.92" width="25.91" height="23.26" fill="#d9e6e6"/><rect x="143.13" y="378.92" width="25.91" height="23.26" fill="#d9e6e6"/><rect x="168.44" y="378.92" width="25.91" height="23.26" fill="#e2eded"/><rect x="193.75" y="378.92" width="25.91" height="23.26" fill="#f2f7f7"/><rect x="219.06" y="378.92" width="25.91" height="23.26" fill="#f9fbfb"/><rect x="244.37" y="378.92" width="25.91" height="23.26" fill="#fcfdfd"/><rect x="269.68" y="378.92" width="25.91" height="23.26" fill="#f9fbfb"/><rect x="294.99" y="378.92" width="25.91" height="23.26" fill="#f2f7f7"/><rect x="320.30" y="378.92" width="25.91" height="23.26" fill="#f2f7f7"/><rect x="345.61" y="378.92" width="25.91" height="23.26" fill="#f2f7f7"/><rect x="370.92" y="378.92" width="25.91" height="23.26" fill="#f2f7f7"/><rect x="-8.73" y="401.58" width="25.91" height="23.26" fill="#ecf3f3"/><rect x="16.58" y="401.58" width="25.91" height="23.26" fill="#ecf3f3"/><rect x="41.89" y="401.58" width="25.91" height="23.26" fill="#ecf3f3"/><rect x="67.20" y="401.58" width="25.91" height="23.26" fill="#ecf3f3"/><rect x="92.51" y="401.58" width="25.91" height="23.26" fill="#dfeaea"/><rect x="117.82" y="401.58" width="25.91" height="23.26" fill="#d5e4e4"/><rect x="143.13" y="401.58" width="25.91" height="23.26" fill="#d5e4e4"/><rect x="168.44" y="401.58" width="25.91" height="23.26" fill="#dce8e8"/><rect x="193.75" y="401.58" width="25.91" height="23.26" fill="#ecf3f3"/><rect x="219.06" y="401.58" width="25.91" height="23.26" fill="#f9fbfb"/><rect x="244.37" y="401.58" width="25.91" height="23.26" fill="#fcfdfd"/><rect x="269.68" y="401.58" width="25.91" height="23.26" fill="#f9fbfb"/><rect x="294.99" y="401.58" width="25.91" height="23.26" fill="#f2f7f7"/><rect x="320.30" y="401.58" width="25.91" height="23.26" fill="#f2f7f7"/><rect x="345.61" y="401.58" width="25.91" height="23.26" fill="#f2f7f7"/><rect x="370.92" y="401.58" width="25.91" height="23.26" fill="#f2f7f7"/><rect x="-8.73" y="424.24" width="25.91" height="23.26" fill="#ecf3f3"/><rect x="16.58" y="424.24" width="25.91" height="23.26" fill="#ecf3f3"/><rect x="41.89" y="424.24" width="25.91" height="23.26" fill="#ecf3f3"/><rect x="67.20" y="424.24" width="25.91" height="23.26" fill="#ecf3f3"/><rect x="92.51" y="424.24" width="25.91" height="23.26" fill="#dce8e8"/><rect x="117.82" y="424.24" width="25.91" height="23.26" fill="#d9e6e6"/><rect x="143.13" y="424.24" width="25.91" height="23.26" fill="#e2eded"/><rect x="168.44" y="424.24" width="25.91" height="23.26" fill="#d9e6e6"/><rect x="193.75" y="424.24" width="25.91" height="23.26" fill="#dfeaea"/><rect x="219.06" y="424.24" width="25.91" height="23.26" fill="#ecf3f3"/><rect x="244.37" y="424.24" width="25.91" height="23.26" fill="#f9fbfb"/><rect x="269.68" y="424.24" width="25.91" height="23.26" fill="#f9fbfb"/><rect x="294.99" y="424.24" width="25.91" height="23.26" fill="#f2f7f7"/><rect x="320.30" y="424.24" width="25.91" height="23.26" fill="#f2f7f7"/><rect x="345.61" y="424.24" width="25.91" height="23.26" fill="#f2f7f7"/><rect x="370.92" y="424.24" width="25.91" height="23.26" fill="#f2f7f7"/><rect x="-8.73" y="446.90" width="25.91" height="23.26" fill="#ecf3f3"/><rect x="16.58" y="446.90" width="25.91" height="23.26" fill="#ecf3f3"/><rect x="41.89" y="446.90" width="25.91" height="23.26" fill="#ecf3f3"/><rect x="67.20" y="446.90" width="25.91" height="23.26" fill="#ecf3f3"/><rect x="92.51" y="446.90" width="25.91" height="23.26" fill="#d9e6e6"/><rect x="117.82" y="446.90" width="25.91" height="23.26" fill="#d9e6e6"/><rect x="143.13" y="446.90" width="25.91" height="23.26" fill="#e9f1f1"/><rect x="168.44" y="446.90" width="25.91" height="23.26" fill="#e5efef"/><rect x="193.75" y="446.90" width="25.91" height="23.26" fill="#d9e6e6"/><rect x="219.06" y="446.90" width="25.91" height="23.26" fill="#e2eded"/><rect x="244.37" y="446.90" width="25.91" height="23.26" fill="#eff5f5"/><rect x="269.68" y="446.90" width="25.91" height="23.26" fill="#f5f9f9"/><rect x="294.99" y="446.90" width="25.91" height="23.26" fill="#f2f7f7"/><rect x="320.30" y="446.90" width="25.91" height="23.26" fill="#f2f7f7"/><rect x="345.61" y="446.90" width="25.91" height="23.26" fill="#f2f7f7"/><rect x="370.92" y="446.90" width="25.91" height="23.26" fill="#f2f7f7"/><rect x="-8.73" y="469.56" width="25.91" height="23.26" fill="#e9f1f1"/><rect x="16.58" y="469.56" width="25.91" height="23.26" fill="#e9f1f1"/><rect x="41.89" y="469.56" width="25.91" height="23.26" fill="#e9f1f1"/><rect x="67.20" y="469.56" width="25.91" height="23.26" fill="#e9f1f1"/><rect x="92.51" y="469.56" width="25.91" height="23.26" fill="#d5e4e4"/><rect x="117.82" y="469.56" width="25.91" height="23.26" fill="#d9e6e6"/><rect x="143.13" y="469.56" width="25.91" height="23.26" fill="#e9f1f1"/><rect x="168.44" y="469.56" width="25.91" height="23.26" fill="#ecf3f3"/><rect x="193.75" y="469.56" width="25.91" height="23.26" fill="#e5efef"/><rect x="219.06" y="469.56" width="25.91" height="23.26" fill="#dce8e8"/><rect x="244.37" y="469.56" width="25.91" height="23.26" fill="#e5efef"/><rect x="269.68" y="469.56" width="25.91" height="23.26" fill="#eff5f5"/><rect x="294.99" y="469.56" width="25.91" height="23.26" fill="#f2f7f7"/><rect x="320.30" y="469.56" width="25.91" height="23.26" fill="#f2f7f7"/><rect x="345.61" y="469.56" width="25.91" height="23.26" fill="#f2f7f7"/><rect x="370.92" y="469.56" width="25.91" height="23.26" fill="#f2f7f7"/><rect x="-8.73" y="492.22" width="25.91" height="23.26" fill="#e9f1f1"/><rect x="16.58" y="492.22" width="25.91" height="23.26" fill="#e9f1f1"/><rect x="41.89" y="492.22" width="25.91" height="23.26" fill="#e9f1f1"/><rect x="67.20" y="492.22" width="25.91" height="23.26" fill="#e9f1f1"/><rect x="92.51" y="492.22" width="25.91" height="23.26" fill="#d5e4e4"/><rect x="117.82" y="492.22" width="25.91" height="23.26" fill="#dce8e8"/><rect x="143.13" y="492.22" width="25.91" height="23.26" fill="#ecf3f3"/><rect x="168.44" y="492.22" width="25.91" height="23.26" fill="#eff5f5"/><rect x="193.75" y="492.22" width="25.91" height="23.26" fill="#ecf3f3"/><rect x="219.06" y="492.22" width="25.91" height="23.26" fill="#e2eded"/><rect x="244.37" y="492.22" width="25.91" height="23.26" fill="#dce8e8"/><rect x="269.68" y="492.22" width="25.91" height="23.26" fill="#e5efef"/><rect x="294.99" y="492.22" width="25.91" height="23.26" fill="#ecf3f3"/><rect x="320.30" y="492.22" width="25.91" height="23.26" fill="#ecf3f3"/><rect x="345.61" y="492.22" width="25.91" height="23.26" fill="#ecf3f3"/><rect x="370.92" y="492.22" width="25.91" height="23.26" fill="#ecf3f3"/><rect x="-8.73" y="514.88" width="25.91" height="23.26" fill="#ecf3f3"/><rect x="16.58" y="514.88" width="25.91" height="23.26" fill="#ecf3f3"/><rect x="41.89" y="514.88" width="25.91" height="23.26" fill="#ecf3f3"/><rect x="67.20" y="514.88" width="25.91" height="23.26" fill="#ecf3f3"/><rect x="92.51" y="514.88" width="25.91" height="23.26" fill="#d9e6e6"/><rect x="117.82" y="514.88" width="25.91" height="23.26" fill="#dfeaea"/><rect x="143.13" y="514.88" width="25.91" height="23.26" fill="#eff5f5"/><rect x="168.44" y="514.88" width="25.91" height="23.26" fill="#f5f9f9"/><rect x="193.75" y="514.88" width="25.91" height="23.26" fill="#f2f7f7"/><rect x="219.06" y="514.88" width="25.91" height="23.26" fill="#ecf3f3"/><rect x="244.37" y="514.88" width="25.91" height="23.26" fill="#e2eded"/><rect x="269.68" y="514.88" width="25.91" height="23.26" fill="#dce8e8"/><rect x="294.99" y="514.88" width="25.91" height="23.26" fill="#e2eded"/><rect x="320.30" y="514.88" width="25.91" height="23.26" fill="#e2eded"/><rect x="345.61" y="514.88" width="25.91" height="23.26" fill="#e2eded"/><rect x="370.92" y="514.88" width="25.91" height="23.26" fill="#e2eded"/><rect x="-8.73" y="537.54" width="25.91" height="23.26" fill="#eff5f5"/><rect x="16.58" y="537.54" width="25.91" height="23.26" fill="#eff5f5"/><rect x="41.89" y="537.54" width="25.91" height="23.26" fill="#eff5f5"/><rect x="67.20" y="537.54" width="25.91" height="23.26" fill="#eff5f5"/><rect x="92.51" y="537.54" width="25.91" height="23.26" fill="#dce8e8"/><rect x="117.82" y="537.54" width="25.91" height="23.26" fill="#e2eded"/><rect x="143.13" y="537.54" width="25.91" height="23.26" fill="#eff5f5"/><rect x="168.44" y="537.54" width="25.91" height="23.26" fill="#f9fbfb"/><rect x="193.75" y="537.54" width="25.91" height="23.26" fill="#f5f9f9"/><rect x="219.06" y="537.54" width="25.91" height="23.26" fill="#f2f7f7"/><rect x="244.37" y="537.54" width="25.91" height="23.26" fill="#ecf3f3"/><rect x="269.68" y="537.54" width="25.91" height="23.26" fill="#e2eded"/><rect x="294.99" y="537.54" width="25.91" height="23.26" fill="#dce8e8"/><rect x="320.30" y="537.54" width="25.91" height="23.26" fill="#dce8e8"/><rect x="345.61" y="537.54" width="25.91" height="23.26" fill="#dce8e8"/><rect x="370.92" y="537.54" width="25.91" height="23.26" fill="#dce8e8"/><rect x="-8.73" y="560.20" width="25.91" height="23.26" fill="#eff5f5"/><rect x="16.58" y="560.20" width="25.91" height="23.26" fill="#eff5f5"/><rect x="41.89" y="560.20" width="25.91" height="23.26" fill="#eff5f5"/><rect x="67.20" y="560.20" width="25.91" height="23.26" fill="#eff5f5"/><rect x="92.51" y="560.20" width="25.91" height="23.26" fill="#dce8e8"/><rect x="117.82" y="560.20" width="25.91" height="23.26" fill="#e2eded"/><rect x="143.13" y="560.20" width="25.91" height="23.26" fill="#eff5f5"/><rect x="168.44" y="560.20" width="25.91" height="23.26" fill="#f9fbfb"/><rect x="193.75" y="560.20" width="25.91" height="23.26" fill="#f5f9f9"/><rect x="219.06" y="560.20" width="25.91" height="23.26" fill="#f2f7f7"/><rect x="244.37" y="560.20" width="25.91" height="23.26" fill="#ecf3f3"/><rect x="269.68" y="560.20" width="25.91" height="23.26" fill="#e2eded"/><rect x="294.99" y="560.20" width="25.91" height="23.26" fill="#dce8e8"/><rect x="320.30" y="560.20" width="25.91" height="23.26" fill="#dce8e8"/><rect x="345.61" y="560.20" width="25.91" height="23.26" fill="#dce8e8"/><rect x="370.92" y="560.20" width="25.91" height="23.26" fill="#dce8e8"/><rect x="-8.73" y="582.86" width="25.91" height="23.26" fill="#eff5f5"/><rect x="16.58" y="582.86" width="25.91" height="23.26" fill="#eff5f5"/><rect x="41.89" y="582.86" width="25.91" height="23.26" fill="#eff5f5"/><rect x="67.20" y="582.86" width="25.91" height="23.26" fill="#eff5f5"/><rect x="92.51" y="582.86" width="25.91" height="23.26" fill="#dce8e8"/><rect x="117.82" y="582.86" width="25.91" height="23.26" fill="#e2eded"/><rect x="143.13" y="582.86" width="25.91" height="23.26" fill="#eff5f5"/><rect x="168.44" y="582.86" width="25.91" height="23.26" fill="#f9fbfb"/><rect x="193.75" y="582.86" width="25.91" height="23.26" fill="#f5f9f9"/><rect x="219.06" y="582.86" width="25.91" height="23.26" fill="#f2f7f7"/><rect x="244.37" y="582.86" width="25.91" height="23.26" fill="#ecf3f3"/><rect x="269.68" y="582.86" width="25.91" height="23.26" fill="#e2eded"/><rect x="294.99" y="582.86" width="25.91" height="23.26" fill="#dce8e8"/><rect x="320.30" y="582.86" width="25.91" height="23.26" fill="#dce8e8"/><rect x="345.61" y="582.86" width="25.91" height="23.26" fill="#dce8e8"/><rect x="370.92" y="582.86" width="25.91" height="23.26" fill="#dce8e8"/><rect x="-8.73" y="605.52" width="25.91" height="23.26" fill="#eff5f5"/><rect x="16.58" y="605.52" width="25.91" height="23.26" fill="#eff5f5"/><rect x="41.89" y="605.52" width="25.91" height="23.26" fill="#eff5f5"/><rect x="67.20" y="605.52" width="25.91" height="23.26" fill="#eff5f5"/><rect x="92.51" y="605.52" width="25.91" height="23.26" fill="#dce8e8"/><rect x="117.82" y="605.52" width="25.91" height="23.26" fill="#e2eded"/><rect x="143.13" y="605.52" width="25.91" height="23.26" fill="#eff5f5"/><rect x="168.44" y="605.52" width="25.91" height="23.26" fill="#f9fbfb"/><rect x="193.75" y="605.52" width="25.91" height="23.26" fill="#f5f9f9"/><rect x="219.06" y="605.52" width="25.91" height="23.26" fill="#f2f7f7"/><rect x="244.37" y="605.52" width="25.91" height="23.26" fill="#ecf3f3"/><rect x="269.68" y="605.52" width="25.91" height="23.26" fill="#e2eded"/><rect x="294.99" y="605.52" width="25.91" height="23.26" fill="#dce8e8"/><rect x="320.30" y="605.52" width="25.91" height="23.26" fill="#dce8e8"/><rect x="345.61" y="605.52" width="25.91" height="23.26" fill="#dce8e8"/><rect x="370.92" y="605.52" width="25.91" height="23.26" fill="#dce8e8"/></g></g>
<rect x="67.20" y="333.60" width="253.10" height="226.60" fill="none" stroke="#5a5a5a" stroke-width="1.0"/>
<text x="313.60" y="355.30" font-size="12.4" text-anchor="end" textLength="183.90" lengthAdjust="spacingAndGlyphs">Random + 100% detection eff.</text>
<text x="313.60" y="371.10" font-size="12.4" text-anchor="end" textLength="50.80" lengthAdjust="spacingAndGlyphs">kNN = 12</text>
<text x="77.30" y="547.50" font-size="13.0" textLength="81.30" lengthAdjust="spacingAndGlyphs">|<tspan font-style="italic">α</tspan>| ≤ 0.00016</text>
<text x="59.40" y="337.30" font-size="11.5" text-anchor="end" textLength="21.92" lengthAdjust="spacingAndGlyphs">0.10</text>
<text x="59.40" y="382.62" font-size="11.5" text-anchor="end" textLength="24.52" lengthAdjust="spacingAndGlyphs">0.08</text>
<text x="59.40" y="427.94" font-size="11.5" text-anchor="end" textLength="24.52" lengthAdjust="spacingAndGlyphs">0.06</text>
<text x="59.40" y="473.26" font-size="11.5" text-anchor="end" textLength="24.52" lengthAdjust="spacingAndGlyphs">0.04</text>
<text x="59.40" y="518.58" font-size="11.5" text-anchor="end" textLength="24.52" lengthAdjust="spacingAndGlyphs">0.02</text>
<text x="59.40" y="563.90" font-size="11.5" text-anchor="end" textLength="7.56" lengthAdjust="spacingAndGlyphs">0</text>
<text x="67.10" y="576.20" font-size="11.5" text-anchor="middle" textLength="7.56" lengthAdjust="spacingAndGlyphs">0</text>
<text x="118.00" y="576.20" font-size="11.5" text-anchor="middle" textLength="14.36" lengthAdjust="spacingAndGlyphs">0.1</text>
<text x="168.90" y="576.20" font-size="11.5" text-anchor="middle" textLength="16.96" lengthAdjust="spacingAndGlyphs">0.2</text>
<text x="219.80" y="576.20" font-size="11.5" text-anchor="middle" textLength="16.96" lengthAdjust="spacingAndGlyphs">0.3</text>
<text x="270.70" y="576.20" font-size="11.5" text-anchor="middle" textLength="16.96" lengthAdjust="spacingAndGlyphs">0.4</text>
<text x="321.60" y="576.20" font-size="11.5" text-anchor="middle" textLength="16.96" lengthAdjust="spacingAndGlyphs">0.5</text>
<text x="195.80" y="596.00" font-size="12.6" text-anchor="middle" textLength="143.2" lengthAdjust="spacingAndGlyphs">Lateral noise, <tspan font-style="italic">σ</tspan><tspan font-style="italic" font-size="8.6" dy="3">x,y−</tspan><tspan dy="-3"> (nm)</tspan></text>
<text x="20.50" y="447.00" font-size="12.6" text-anchor="middle" textLength="130.5" lengthAdjust="spacingAndGlyphs" transform="rotate(-90 20.50 447.00)">Depth noise, <tspan font-style="italic">σ</tspan><tspan font-style="italic" font-size="8.6" dy="3">z−</tspan><tspan dy="-3"> (nm)</tspan></text>
<text x="333.70" y="327.70" font-size="12.4" textLength="59.40" lengthAdjust="spacingAndGlyphs">|SRO| (|<tspan font-style="italic">α</tspan>|)</text>
<rect x="327.60" y="339.60" width="11.20" height="222.80" fill="url(#cbc)" stroke="#5a5a5a" stroke-width="0.9"/>
<text x="344.70" y="343.50" font-size="11.0" textLength="37.73" lengthAdjust="spacingAndGlyphs">0.0010</text>
<line x1="336.30" y1="361.88" x2="338.80" y2="361.88" stroke="#222" stroke-width="1"/>
<text x="344.70" y="365.78" font-size="11.0" textLength="40.37" lengthAdjust="spacingAndGlyphs">0.0009</text>
<line x1="336.30" y1="384.16" x2="338.80" y2="384.16" stroke="#222" stroke-width="1"/>
<text x="344.70" y="388.06" font-size="11.0" textLength="40.37" lengthAdjust="spacingAndGlyphs">0.0008</text>
<line x1="336.30" y1="406.44" x2="338.80" y2="406.44" stroke="#222" stroke-width="1"/>
<text x="344.70" y="410.34" font-size="11.0" textLength="40.37" lengthAdjust="spacingAndGlyphs">0.0007</text>
<line x1="336.30" y1="428.72" x2="338.80" y2="428.72" stroke="#222" stroke-width="1"/>
<text x="344.70" y="432.62" font-size="11.0" textLength="40.37" lengthAdjust="spacingAndGlyphs">0.0006</text>
<line x1="336.30" y1="451.00" x2="338.80" y2="451.00" stroke="#222" stroke-width="1"/>
<text x="344.70" y="454.90" font-size="11.0" textLength="40.37" lengthAdjust="spacingAndGlyphs">0.0005</text>
<line x1="336.30" y1="473.28" x2="338.80" y2="473.28" stroke="#222" stroke-width="1"/>
<text x="344.70" y="477.18" font-size="11.0" textLength="40.37" lengthAdjust="spacingAndGlyphs">0.0004</text>
<line x1="336.30" y1="495.56" x2="338.80" y2="495.56" stroke="#222" stroke-width="1"/>
<text x="344.70" y="499.46" font-size="11.0" textLength="40.37" lengthAdjust="spacingAndGlyphs">0.0003</text>
<line x1="336.30" y1="517.84" x2="338.80" y2="517.84" stroke="#222" stroke-width="1"/>
<text x="344.70" y="521.74" font-size="11.0" textLength="40.37" lengthAdjust="spacingAndGlyphs">0.0002</text>
<line x1="336.30" y1="540.12" x2="338.80" y2="540.12" stroke="#222" stroke-width="1"/>
<text x="344.70" y="544.02" font-size="11.0" textLength="37.73" lengthAdjust="spacingAndGlyphs">0.0001</text>
<text x="344.70" y="566.30" font-size="11.0" textLength="7.70" lengthAdjust="spacingAndGlyphs">0</text>
<text x="416.30" y="325.90" font-size="20" font-weight="bold" style="stroke:#000;stroke-width:0.4;fill:#000">d</text>
<rect x="477.00" y="337.80" width="250.00" height="222.00" fill="url(#hdt)"/>
<rect x="477.00" y="337.80" width="250.00" height="222.00" fill="url(#hdb)" mask="url(#hdm)"/>
<line x1="662.20" y1="338.80" x2="662.20" y2="559.80" stroke="#ffffff" stroke-width="1.2" stroke-dasharray="4 2.5"/>
<rect x="477.00" y="337.80" width="250.00" height="222.00" fill="none" stroke="#5a4a40" stroke-width="1"/>
<text x="718.60" y="359.90" font-size="12.4" text-anchor="end" textLength="211.30" lengthAdjust="spacingAndGlyphs">Non-random + 100% detection eff.</text>
<text x="718.60" y="375.70" font-size="12.4" text-anchor="end" textLength="51.40" lengthAdjust="spacingAndGlyphs">kNN = 12</text>
<text x="492.50" y="547.80" font-size="12.4" textLength="104.50" lengthAdjust="spacingAndGlyphs">~0 ≤ |<tspan font-style="italic">α</tspan>| ≤  0.0437</text>
<text x="468.20" y="341.70" font-size="11.5" text-anchor="end" textLength="21.92" lengthAdjust="spacingAndGlyphs">0.10</text>
<text x="468.20" y="386.36" font-size="11.5" text-anchor="end" textLength="24.52" lengthAdjust="spacingAndGlyphs">0.08</text>
<text x="468.20" y="431.02" font-size="11.5" text-anchor="end" textLength="24.52" lengthAdjust="spacingAndGlyphs">0.06</text>
<text x="468.20" y="475.68" font-size="11.5" text-anchor="end" textLength="24.52" lengthAdjust="spacingAndGlyphs">0.04</text>
<text x="468.20" y="520.34" font-size="11.5" text-anchor="end" textLength="24.52" lengthAdjust="spacingAndGlyphs">0.02</text>
<text x="468.20" y="565.00" font-size="11.5" text-anchor="end" textLength="7.56" lengthAdjust="spacingAndGlyphs">0</text>
<text x="476.70" y="575.80" font-size="11.5" text-anchor="middle" textLength="7.56" lengthAdjust="spacingAndGlyphs">0</text>
<text x="526.70" y="575.80" font-size="11.5" text-anchor="middle" textLength="23.44" lengthAdjust="spacingAndGlyphs">0.25</text>
<text x="576.70" y="575.80" font-size="11.5" text-anchor="middle" textLength="24.52" lengthAdjust="spacingAndGlyphs">0.50</text>
<text x="626.70" y="575.80" font-size="11.5" text-anchor="middle" textLength="23.44" lengthAdjust="spacingAndGlyphs">0.75</text>
<text x="676.70" y="575.80" font-size="11.5" text-anchor="middle" textLength="21.92" lengthAdjust="spacingAndGlyphs">1.00</text>
<text x="726.70" y="575.80" font-size="11.5" text-anchor="middle" textLength="19.76" lengthAdjust="spacingAndGlyphs">1.25</text>
<text x="601.60" y="596.00" font-size="12.6" text-anchor="middle" textLength="143.2" lengthAdjust="spacingAndGlyphs">Lateral noise, <tspan font-style="italic">σ</tspan><tspan font-style="italic" font-size="8.6" dy="3">x,y−</tspan><tspan dy="-3"> (nm)</tspan></text>
<text x="430.40" y="448.20" font-size="12.6" text-anchor="middle" textLength="130.5" lengthAdjust="spacingAndGlyphs" transform="rotate(-90 430.40 448.20)">Depth noise, <tspan font-style="italic">σ</tspan><tspan font-style="italic" font-size="8.6" dy="3">z−</tspan><tspan dy="-3"> (nm)</tspan></text>
<text x="724.70" y="329.00" font-size="12.4" textLength="60.20" lengthAdjust="spacingAndGlyphs">|SRO| (|<tspan font-style="italic">α</tspan>|)</text>
<rect x="736.40" y="344.50" width="10.80" height="214.80" fill="url(#cbd)" stroke="#5a5a5a" stroke-width="0.9"/>
<text x="752.00" y="348.40" font-size="11.0" textLength="32.67" lengthAdjust="spacingAndGlyphs">0.050</text>
<line x1="744.70" y1="365.98" x2="747.20" y2="365.98" stroke="#222" stroke-width="1"/>
<text x="752.00" y="369.88" font-size="11.0" textLength="31.57" lengthAdjust="spacingAndGlyphs">0.045</text>
<line x1="744.70" y1="387.46" x2="747.20" y2="387.46" stroke="#222" stroke-width="1"/>
<text x="752.00" y="391.36" font-size="11.0" textLength="32.67" lengthAdjust="spacingAndGlyphs">0.040</text>
<line x1="744.70" y1="408.94" x2="747.20" y2="408.94" stroke="#222" stroke-width="1"/>
<text x="752.00" y="412.84" font-size="11.0" textLength="31.57" lengthAdjust="spacingAndGlyphs">0.035</text>
<line x1="744.70" y1="430.42" x2="747.20" y2="430.42" stroke="#222" stroke-width="1"/>
<text x="752.00" y="434.32" font-size="11.0" textLength="32.67" lengthAdjust="spacingAndGlyphs">0.030</text>
<line x1="744.70" y1="451.90" x2="747.20" y2="451.90" stroke="#222" stroke-width="1"/>
<text x="752.00" y="455.80" font-size="11.0" textLength="31.57" lengthAdjust="spacingAndGlyphs">0.025</text>
<line x1="744.70" y1="473.38" x2="747.20" y2="473.38" stroke="#222" stroke-width="1"/>
<text x="752.00" y="477.28" font-size="11.0" textLength="32.67" lengthAdjust="spacingAndGlyphs">0.020</text>
<line x1="744.70" y1="494.86" x2="747.20" y2="494.86" stroke="#222" stroke-width="1"/>
<text x="752.00" y="498.76" font-size="11.0" textLength="28.93" lengthAdjust="spacingAndGlyphs">0.015</text>
<line x1="744.70" y1="516.34" x2="747.20" y2="516.34" stroke="#222" stroke-width="1"/>
<text x="752.00" y="520.24" font-size="11.0" textLength="30.03" lengthAdjust="spacingAndGlyphs">0.010</text>
<line x1="744.70" y1="537.82" x2="747.20" y2="537.82" stroke="#222" stroke-width="1"/>
<text x="752.00" y="541.72" font-size="11.0" textLength="32.67" lengthAdjust="spacingAndGlyphs">0.005</text>
<text x="752.00" y="563.20" font-size="11.0" textLength="7.70" lengthAdjust="spacingAndGlyphs">0</text>
<text x="-0.60" y="629.70" font-size="20" font-weight="bold" style="stroke:#000;stroke-width:0.4;fill:#000">e</text>
<g clip-path="url(#hec)"><g filter="url(#hef)"><rect x="-8.70" y="575.58" width="25.90" height="22.94" fill="#f5f9f9"/><rect x="16.60" y="575.58" width="25.90" height="22.94" fill="#f5f9f9"/><rect x="41.90" y="575.58" width="25.90" height="22.94" fill="#f5f9f9"/><rect x="67.20" y="575.58" width="25.90" height="22.94" fill="#f5f9f9"/><rect x="92.50" y="575.58" width="25.90" height="22.94" fill="#ecf3f3"/><rect x="117.80" y="575.58" width="25.90" height="22.94" fill="#d4e3e3"/><rect x="143.10" y="575.58" width="25.90" height="22.94" fill="#d9e6e6"/><rect x="168.40" y="575.58" width="25.90" height="22.94" fill="#ecf3f3"/><rect x="193.70" y="575.58" width="25.90" height="22.94" fill="#f1f6f6"/><rect x="219.00" y="575.58" width="25.90" height="22.94" fill="#f5f9f9"/><rect x="244.30" y="575.58" width="25.90" height="22.94" fill="#f5f9f9"/><rect x="269.60" y="575.58" width="25.90" height="22.94" fill="#ecf3f3"/><rect x="294.90" y="575.58" width="25.90" height="22.94" fill="#ddeaea"/><rect x="320.20" y="575.58" width="25.90" height="22.94" fill="#ddeaea"/><rect x="345.50" y="575.58" width="25.90" height="22.94" fill="#ddeaea"/><rect x="370.80" y="575.58" width="25.90" height="22.94" fill="#ddeaea"/><rect x="-8.70" y="597.92" width="25.90" height="22.94" fill="#f5f9f9"/><rect x="16.60" y="597.92" width="25.90" height="22.94" fill="#f5f9f9"/><rect x="41.90" y="597.92" width="25.90" height="22.94" fill="#f5f9f9"/><rect x="67.20" y="597.92" width="25.90" height="22.94" fill="#f5f9f9"/><rect x="92.50" y="597.92" width="25.90" height="22.94" fill="#ecf3f3"/><rect x="117.80" y="597.92" width="25.90" height="22.94" fill="#d4e3e3"/><rect x="143.10" y="597.92" width="25.90" height="22.94" fill="#d9e6e6"/><rect x="168.40" y="597.92" width="25.90" height="22.94" fill="#ecf3f3"/><rect x="193.70" y="597.92" width="25.90" height="22.94" fill="#f1f6f6"/><rect x="219.00" y="597.92" width="25.90" height="22.94" fill="#f5f9f9"/><rect x="244.30" y="597.92" width="25.90" height="22.94" fill="#f5f9f9"/><rect x="269.60" y="597.92" width="25.90" height="22.94" fill="#ecf3f3"/><rect x="294.90" y="597.92" width="25.90" height="22.94" fill="#ddeaea"/><rect x="320.20" y="597.92" width="25.90" height="22.94" fill="#ddeaea"/><rect x="345.50" y="597.92" width="25.90" height="22.94" fill="#ddeaea"/><rect x="370.80" y="597.92" width="25.90" height="22.94" fill="#ddeaea"/><rect x="-8.70" y="620.26" width="25.90" height="22.94" fill="#f5f9f9"/><rect x="16.60" y="620.26" width="25.90" height="22.94" fill="#f5f9f9"/><rect x="41.90" y="620.26" width="25.90" height="22.94" fill="#f5f9f9"/><rect x="67.20" y="620.26" width="25.90" height="22.94" fill="#f5f9f9"/><rect x="92.50" y="620.26" width="25.90" height="22.94" fill="#ecf3f3"/><rect x="117.80" y="620.26" width="25.90" height="22.94" fill="#d4e3e3"/><rect x="143.10" y="620.26" width="25.90" height="22.94" fill="#d9e6e6"/><rect x="168.40" y="620.26" width="25.90" height="22.94" fill="#ecf3f3"/><rect x="193.70" y="620.26" width="25.90" height="22.94" fill="#f1f6f6"/><rect x="219.00" y="620.26" width="25.90" height="22.94" fill="#f5f9f9"/><rect x="244.30" y="620.26" width="25.90" height="22.94" fill="#f5f9f9"/><rect x="269.60" y="620.26" width="25.90" height="22.94" fill="#ecf3f3"/><rect x="294.90" y="620.26" width="25.90" height="22.94" fill="#ddeaea"/><rect x="320.20" y="620.26" width="25.90" height="22.94" fill="#ddeaea"/><rect x="345.50" y="620.26" width="25.90" height="22.94" fill="#ddeaea"/><rect x="370.80" y="620.26" width="25.90" height="22.94" fill="#ddeaea"/><rect x="-8.70" y="642.60" width="25.90" height="22.94" fill="#f5f9f9"/><rect x="16.60" y="642.60" width="25.90" height="22.94" fill="#f5f9f9"/><rect x="41.90" y="642.60" width="25.90" height="22.94" fill="#f5f9f9"/><rect x="67.20" y="642.60" width="25.90" height="22.94" fill="#f5f9f9"/><rect x="92.50" y="642.60" width="25.90" height="22.94" fill="#ecf3f3"/><rect x="117.80" y="642.60" width="25.90" height="22.94" fill="#d4e3e3"/><rect x="143.10" y="642.60" width="25.90" height="22.94" fill="#d9e6e6"/><rect x="168.40" y="642.60" width="25.90" height="22.94" fill="#ecf3f3"/><rect x="193.70" y="642.60" width="25.90" height="22.94" fill="#f1f6f6"/><rect x="219.00" y="642.60" width="25.90" height="22.94" fill="#f5f9f9"/><rect x="244.30" y="642.60" width="25.90" height="22.94" fill="#f5f9f9"/><rect x="269.60" y="642.60" width="25.90" height="22.94" fill="#ecf3f3"/><rect x="294.90" y="642.60" width="25.90" height="22.94" fill="#ddeaea"/><rect x="320.20" y="642.60" width="25.90" height="22.94" fill="#ddeaea"/><rect x="345.50" y="642.60" width="25.90" height="22.94" fill="#ddeaea"/><rect x="370.80" y="642.60" width="25.90" height="22.94" fill="#ddeaea"/><rect x="-8.70" y="664.94" width="25.90" height="22.94" fill="#f5f9f9"/><rect x="16.60" y="664.94" width="25.90" height="22.94" fill="#f5f9f9"/><rect x="41.90" y="664.94" width="25.90" height="22.94" fill="#f5f9f9"/><rect x="67.20" y="664.94" width="25.90" height="22.94" fill="#f5f9f9"/><rect x="92.50" y="664.94" width="25.90" height="22.94" fill="#ecf3f3"/><rect x="117.80" y="664.94" width="25.90" height="22.94" fill="#ddeaea"/><rect x="143.10" y="664.94" width="25.90" height="22.94" fill="#e2eded"/><rect x="168.40" y="664.94" width="25.90" height="22.94" fill="#f1f6f6"/><rect x="193.70" y="664.94" width="25.90" height="22.94" fill="#fafcfc"/><rect x="219.00" y="664.94" width="25.90" height="22.94" fill="#fafcfc"/><rect x="244.30" y="664.94" width="25.90" height="22.94" fill="#f5f9f9"/><rect x="269.60" y="664.94" width="25.90" height="22.94" fill="#ecf3f3"/><rect x="294.90" y="664.94" width="25.90" height="22.94" fill="#ddeaea"/><rect x="320.20" y="664.94" width="25.90" height="22.94" fill="#ddeaea"/><rect x="345.50" y="664.94" width="25.90" height="22.94" fill="#ddeaea"/><rect x="370.80" y="664.94" width="25.90" height="22.94" fill="#ddeaea"/><rect x="-8.70" y="687.28" width="25.90" height="22.94" fill="#ecf3f3"/><rect x="16.60" y="687.28" width="25.90" height="22.94" fill="#ecf3f3"/><rect x="41.90" y="687.28" width="25.90" height="22.94" fill="#ecf3f3"/><rect x="67.20" y="687.28" width="25.90" height="22.94" fill="#ecf3f3"/><rect x="92.50" y="687.28" width="25.90" height="22.94" fill="#e2eded"/><rect x="117.80" y="687.28" width="25.90" height="22.94" fill="#e2eded"/><rect x="143.10" y="687.28" width="25.90" height="22.94" fill="#ecf3f3"/><rect x="168.40" y="687.28" width="25.90" height="22.94" fill="#f5f9f9"/><rect x="193.70" y="687.28" width="25.90" height="22.94" fill="#fafcfc"/><rect x="219.00" y="687.28" width="25.90" height="22.94" fill="#fafcfc"/><rect x="244.30" y="687.28" width="25.90" height="22.94" fill="#f1f6f6"/><rect x="269.60" y="687.28" width="25.90" height="22.94" fill="#e2eded"/><rect x="294.90" y="687.28" width="25.90" height="22.94" fill="#d9e6e6"/><rect x="320.20" y="687.28" width="25.90" height="22.94" fill="#d9e6e6"/><rect x="345.50" y="687.28" width="25.90" height="22.94" fill="#d9e6e6"/><rect x="370.80" y="687.28" width="25.90" height="22.94" fill="#d9e6e6"/><rect x="-8.70" y="709.62" width="25.90" height="22.94" fill="#ddeaea"/><rect x="16.60" y="709.62" width="25.90" height="22.94" fill="#ddeaea"/><rect x="41.90" y="709.62" width="25.90" height="22.94" fill="#ddeaea"/><rect x="67.20" y="709.62" width="25.90" height="22.94" fill="#ddeaea"/><rect x="92.50" y="709.62" width="25.90" height="22.94" fill="#d9e6e6"/><rect x="117.80" y="709.62" width="25.90" height="22.94" fill="#ddeaea"/><rect x="143.10" y="709.62" width="25.90" height="22.94" fill="#ecf3f3"/><rect x="168.40" y="709.62" width="25.90" height="22.94" fill="#f1f6f6"/><rect x="193.70" y="709.62" width="25.90" height="22.94" fill="#f5f9f9"/><rect x="219.00" y="709.62" width="25.90" height="22.94" fill="#ecf3f3"/><rect x="244.30" y="709.62" width="25.90" height="22.94" fill="#e2eded"/><rect x="269.60" y="709.62" width="25.90" height="22.94" fill="#d9e6e6"/><rect x="294.90" y="709.62" width="25.90" height="22.94" fill="#d4e3e3"/><rect x="320.20" y="709.62" width="25.90" height="22.94" fill="#d4e3e3"/><rect x="345.50" y="709.62" width="25.90" height="22.94" fill="#d4e3e3"/><rect x="370.80" y="709.62" width="25.90" height="22.94" fill="#d4e3e3"/><rect x="-8.70" y="731.96" width="25.90" height="22.94" fill="#d4e3e3"/><rect x="16.60" y="731.96" width="25.90" height="22.94" fill="#d4e3e3"/><rect x="41.90" y="731.96" width="25.90" height="22.94" fill="#d4e3e3"/><rect x="67.20" y="731.96" width="25.90" height="22.94" fill="#d4e3e3"/><rect x="92.50" y="731.96" width="25.90" height="22.94" fill="#cfe0e0"/><rect x="117.80" y="731.96" width="25.90" height="22.94" fill="#d4e3e3"/><rect x="143.10" y="731.96" width="25.90" height="22.94" fill="#e2eded"/><rect x="168.40" y="731.96" width="25.90" height="22.94" fill="#ddeaea"/><rect x="193.70" y="731.96" width="25.90" height="22.94" fill="#e2eded"/><rect x="219.00" y="731.96" width="25.90" height="22.94" fill="#e7f0f0"/><rect x="244.30" y="731.96" width="25.90" height="22.94" fill="#ddeaea"/><rect x="269.60" y="731.96" width="25.90" height="22.94" fill="#d4e3e3"/><rect x="294.90" y="731.96" width="25.90" height="22.94" fill="#cfe0e0"/><rect x="320.20" y="731.96" width="25.90" height="22.94" fill="#cfe0e0"/><rect x="345.50" y="731.96" width="25.90" height="22.94" fill="#cfe0e0"/><rect x="370.80" y="731.96" width="25.90" height="22.94" fill="#cfe0e0"/><rect x="-8.70" y="754.30" width="25.90" height="22.94" fill="#cfe0e0"/><rect x="16.60" y="754.30" width="25.90" height="22.94" fill="#cfe0e0"/><rect x="41.90" y="754.30" width="25.90" height="22.94" fill="#cfe0e0"/><rect x="67.20" y="754.30" width="25.90" height="22.94" fill="#cfe0e0"/><rect x="92.50" y="754.30" width="25.90" height="22.94" fill="#cadddd"/><rect x="117.80" y="754.30" width="25.90" height="22.94" fill="#cfe0e0"/><rect x="143.10" y="754.30" width="25.90" height="22.94" fill="#d9e6e6"/><rect x="168.40" y="754.30" width="25.90" height="22.94" fill="#e2eded"/><rect x="193.70" y="754.30" width="25.90" height="22.94" fill="#d9e6e6"/><rect x="219.00" y="754.30" width="25.90" height="22.94" fill="#d9e6e6"/><rect x="244.30" y="754.30" width="25.90" height="22.94" fill="#ddeaea"/><rect x="269.60" y="754.30" width="25.90" height="22.94" fill="#d9e6e6"/><rect x="294.90" y="754.30" width="25.90" height="22.94" fill="#d4e3e3"/><rect x="320.20" y="754.30" width="25.90" height="22.94" fill="#d4e3e3"/><rect x="345.50" y="754.30" width="25.90" height="22.94" fill="#d4e3e3"/><rect x="370.80" y="754.30" width="25.90" height="22.94" fill="#d4e3e3"/><rect x="-8.70" y="776.64" width="25.90" height="22.94" fill="#cadddd"/><rect x="16.60" y="776.64" width="25.90" height="22.94" fill="#cadddd"/><rect x="41.90" y="776.64" width="25.90" height="22.94" fill="#cadddd"/><rect x="67.20" y="776.64" width="25.90" height="22.94" fill="#cadddd"/><rect x="92.50" y="776.64" width="25.90" height="22.94" fill="#c1d7d7"/><rect x="117.80" y="776.64" width="25.90" height="22.94" fill="#c5dada"/><rect x="143.10" y="776.64" width="25.90" height="22.94" fill="#cfe0e0"/><rect x="168.40" y="776.64" width="25.90" height="22.94" fill="#ddeaea"/><rect x="193.70" y="776.64" width="25.90" height="22.94" fill="#e2eded"/><rect x="219.00" y="776.64" width="25.90" height="22.94" fill="#d4e3e3"/><rect x="244.30" y="776.64" width="25.90" height="22.94" fill="#d4e3e3"/><rect x="269.60" y="776.64" width="25.90" height="22.94" fill="#d9e6e6"/><rect x="294.90" y="776.64" width="25.90" height="22.94" fill="#d4e3e3"/><rect x="320.20" y="776.64" width="25.90" height="22.94" fill="#d4e3e3"/><rect x="345.50" y="776.64" width="25.90" height="22.94" fill="#d4e3e3"/><rect x="370.80" y="776.64" width="25.90" height="22.94" fill="#d4e3e3"/><rect x="-8.70" y="798.98" width="25.90" height="22.94" fill="#c5dada"/><rect x="16.60" y="798.98" width="25.90" height="22.94" fill="#c5dada"/><rect x="41.90" y="798.98" width="25.90" height="22.94" fill="#c5dada"/><rect x="67.20" y="798.98" width="25.90" height="22.94" fill="#c5dada"/><rect x="92.50" y="798.98" width="25.90" height="22.94" fill="#b7d1d1"/><rect x="117.80" y="798.98" width="25.90" height="22.94" fill="#bcd4d4"/><rect x="143.10" y="798.98" width="25.90" height="22.94" fill="#cfe0e0"/><rect x="168.40" y="798.98" width="25.90" height="22.94" fill="#d9e6e6"/><rect x="193.70" y="798.98" width="25.90" height="22.94" fill="#e7f0f0"/><rect x="219.00" y="798.98" width="25.90" height="22.94" fill="#ddeaea"/><rect x="244.30" y="798.98" width="25.90" height="22.94" fill="#d4e3e3"/><rect x="269.60" y="798.98" width="25.90" height="22.94" fill="#d4e3e3"/><rect x="294.90" y="798.98" width="25.90" height="22.94" fill="#d4e3e3"/><rect x="320.20" y="798.98" width="25.90" height="22.94" fill="#d4e3e3"/><rect x="345.50" y="798.98" width="25.90" height="22.94" fill="#d4e3e3"/><rect x="370.80" y="798.98" width="25.90" height="22.94" fill="#d4e3e3"/><rect x="-8.70" y="821.32" width="25.90" height="22.94" fill="#cadddd"/><rect x="16.60" y="821.32" width="25.90" height="22.94" fill="#cadddd"/><rect x="41.90" y="821.32" width="25.90" height="22.94" fill="#cadddd"/><rect x="67.20" y="821.32" width="25.90" height="22.94" fill="#cadddd"/><rect x="92.50" y="821.32" width="25.90" height="22.94" fill="#b7d1d1"/><rect x="117.80" y="821.32" width="25.90" height="22.94" fill="#bcd4d4"/><rect x="143.10" y="821.32" width="25.90" height="22.94" fill="#cfe0e0"/><rect x="168.40" y="821.32" width="25.90" height="22.94" fill="#ddeaea"/><rect x="193.70" y="821.32" width="25.90" height="22.94" fill="#e7f0f0"/><rect x="219.00" y="821.32" width="25.90" height="22.94" fill="#e2eded"/><rect x="244.30" y="821.32" width="25.90" height="22.94" fill="#d9e6e6"/><rect x="269.60" y="821.32" width="25.90" height="22.94" fill="#d4e3e3"/><rect x="294.90" y="821.32" width="25.90" height="22.94" fill="#d4e3e3"/><rect x="320.20" y="821.32" width="25.90" height="22.94" fill="#d4e3e3"/><rect x="345.50" y="821.32" width="25.90" height="22.94" fill="#d4e3e3"/><rect x="370.80" y="821.32" width="25.90" height="22.94" fill="#d4e3e3"/><rect x="-8.70" y="843.66" width="25.90" height="22.94" fill="#ddeaea"/><rect x="16.60" y="843.66" width="25.90" height="22.94" fill="#ddeaea"/><rect x="41.90" y="843.66" width="25.90" height="22.94" fill="#ddeaea"/><rect x="67.20" y="843.66" width="25.90" height="22.94" fill="#ddeaea"/><rect x="92.50" y="843.66" width="25.90" height="22.94" fill="#c1d7d7"/><rect x="117.80" y="843.66" width="25.90" height="22.94" fill="#c5dada"/><rect x="143.10" y="843.66" width="25.90" height="22.94" fill="#d4e3e3"/><rect x="168.40" y="843.66" width="25.90" height="22.94" fill="#e2eded"/><rect x="193.70" y="843.66" width="25.90" height="22.94" fill="#e2eded"/><rect x="219.00" y="843.66" width="25.90" height="22.94" fill="#ddeaea"/><rect x="244.30" y="843.66" width="25.90" height="22.94" fill="#d9e6e6"/><rect x="269.60" y="843.66" width="25.90" height="22.94" fill="#d4e3e3"/><rect x="294.90" y="843.66" width="25.90" height="22.94" fill="#d4e3e3"/><rect x="320.20" y="843.66" width="25.90" height="22.94" fill="#d4e3e3"/><rect x="345.50" y="843.66" width="25.90" height="22.94" fill="#d4e3e3"/><rect x="370.80" y="843.66" width="25.90" height="22.94" fill="#d4e3e3"/><rect x="-8.70" y="866.00" width="25.90" height="22.94" fill="#ddeaea"/><rect x="16.60" y="866.00" width="25.90" height="22.94" fill="#ddeaea"/><rect x="41.90" y="866.00" width="25.90" height="22.94" fill="#ddeaea"/><rect x="67.20" y="866.00" width="25.90" height="22.94" fill="#ddeaea"/><rect x="92.50" y="866.00" width="25.90" height="22.94" fill="#c1d7d7"/><rect x="117.80" y="866.00" width="25.90" height="22.94" fill="#c5dada"/><rect x="143.10" y="866.00" width="25.90" height="22.94" fill="#d4e3e3"/><rect x="168.40" y="866.00" width="25.90" height="22.94" fill="#e2eded"/><rect x="193.70" y="866.00" width="25.90" height="22.94" fill="#e2eded"/><rect x="219.00" y="866.00" width="25.90" height="22.94" fill="#ddeaea"/><rect x="244.30" y="866.00" width="25.90" height="22.94" fill="#d9e6e6"/><rect x="269.60" y="866.00" width="25.90" height="22.94" fill="#d4e3e3"/><rect x="294.90" y="866.00" width="25.90" height="22.94" fill="#d4e3e3"/><rect x="320.20" y="866.00" width="25.90" height="22.94" fill="#d4e3e3"/><rect x="345.50" y="866.00" width="25.90" height="22.94" fill="#d4e3e3"/><rect x="370.80" y="866.00" width="25.90" height="22.94" fill="#d4e3e3"/><rect x="-8.70" y="888.34" width="25.90" height="22.94" fill="#ddeaea"/><rect x="16.60" y="888.34" width="25.90" height="22.94" fill="#ddeaea"/><rect x="41.90" y="888.34" width="25.90" height="22.94" fill="#ddeaea"/><rect x="67.20" y="888.34" width="25.90" height="22.94" fill="#ddeaea"/><rect x="92.50" y="888.34" width="25.90" height="22.94" fill="#c1d7d7"/><rect x="117.80" y="888.34" width="25.90" height="22.94" fill="#c5dada"/><rect x="143.10" y="888.34" width="25.90" height="22.94" fill="#d4e3e3"/><rect x="168.40" y="888.34" width="25.90" height="22.94" fill="#e2eded"/><rect x="193.70" y="888.34" width="25.90" height="22.94" fill="#e2eded"/><rect x="219.00" y="888.34" width="25.90" height="22.94" fill="#ddeaea"/><rect x="244.30" y="888.34" width="25.90" height="22.94" fill="#d9e6e6"/><rect x="269.60" y="888.34" width="25.90" height="22.94" fill="#d4e3e3"/><rect x="294.90" y="888.34" width="25.90" height="22.94" fill="#d4e3e3"/><rect x="320.20" y="888.34" width="25.90" height="22.94" fill="#d4e3e3"/><rect x="345.50" y="888.34" width="25.90" height="22.94" fill="#d4e3e3"/><rect x="370.80" y="888.34" width="25.90" height="22.94" fill="#d4e3e3"/><rect x="-8.70" y="910.68" width="25.90" height="22.94" fill="#ddeaea"/><rect x="16.60" y="910.68" width="25.90" height="22.94" fill="#ddeaea"/><rect x="41.90" y="910.68" width="25.90" height="22.94" fill="#ddeaea"/><rect x="67.20" y="910.68" width="25.90" height="22.94" fill="#ddeaea"/><rect x="92.50" y="910.68" width="25.90" height="22.94" fill="#c1d7d7"/><rect x="117.80" y="910.68" width="25.90" height="22.94" fill="#c5dada"/><rect x="143.10" y="910.68" width="25.90" height="22.94" fill="#d4e3e3"/><rect x="168.40" y="910.68" width="25.90" height="22.94" fill="#e2eded"/><rect x="193.70" y="910.68" width="25.90" height="22.94" fill="#e2eded"/><rect x="219.00" y="910.68" width="25.90" height="22.94" fill="#ddeaea"/><rect x="244.30" y="910.68" width="25.90" height="22.94" fill="#d9e6e6"/><rect x="269.60" y="910.68" width="25.90" height="22.94" fill="#d4e3e3"/><rect x="294.90" y="910.68" width="25.90" height="22.94" fill="#d4e3e3"/><rect x="320.20" y="910.68" width="25.90" height="22.94" fill="#d4e3e3"/><rect x="345.50" y="910.68" width="25.90" height="22.94" fill="#d4e3e3"/><rect x="370.80" y="910.68" width="25.90" height="22.94" fill="#d4e3e3"/></g></g>
<rect x="67.20" y="642.60" width="253.00" height="223.40" fill="none" stroke="#5a5a5a" stroke-width="1.0"/>
<text x="313.60" y="664.80" font-size="12.4" text-anchor="end" textLength="176.30" lengthAdjust="spacingAndGlyphs">Random + 57% detection eff.</text>
<text x="313.60" y="680.60" font-size="12.4" text-anchor="end" textLength="44.90" lengthAdjust="spacingAndGlyphs">kNN = 7</text>
<text x="77.30" y="854.60" font-size="13.0" textLength="85.90" lengthAdjust="spacingAndGlyphs">|<tspan font-style="italic">α</tspan>| ≤  0.00022</text>
<text x="59.40" y="646.30" font-size="11.5" text-anchor="end" textLength="21.92" lengthAdjust="spacingAndGlyphs">0.10</text>
<text x="59.40" y="690.98" font-size="11.5" text-anchor="end" textLength="24.52" lengthAdjust="spacingAndGlyphs">0.08</text>
<text x="59.40" y="735.66" font-size="11.5" text-anchor="end" textLength="24.52" lengthAdjust="spacingAndGlyphs">0.06</text>
<text x="59.40" y="780.34" font-size="11.5" text-anchor="end" textLength="24.52" lengthAdjust="spacingAndGlyphs">0.04</text>
<text x="59.40" y="825.02" font-size="11.5" text-anchor="end" textLength="24.52" lengthAdjust="spacingAndGlyphs">0.02</text>
<text x="59.40" y="869.70" font-size="11.5" text-anchor="end" textLength="7.56" lengthAdjust="spacingAndGlyphs">0</text>
<text x="67.10" y="880.00" font-size="11.5" text-anchor="middle" textLength="7.56" lengthAdjust="spacingAndGlyphs">0</text>
<text x="117.70" y="880.00" font-size="11.5" text-anchor="middle" textLength="14.36" lengthAdjust="spacingAndGlyphs">0.1</text>
<text x="168.30" y="880.00" font-size="11.5" text-anchor="middle" textLength="16.96" lengthAdjust="spacingAndGlyphs">0.2</text>
<text x="218.90" y="880.00" font-size="11.5" text-anchor="middle" textLength="16.96" lengthAdjust="spacingAndGlyphs">0.3</text>
<text x="269.50" y="880.00" font-size="11.5" text-anchor="middle" textLength="16.96" lengthAdjust="spacingAndGlyphs">0.4</text>
<text x="320.10" y="880.00" font-size="11.5" text-anchor="middle" textLength="16.96" lengthAdjust="spacingAndGlyphs">0.5</text>
<text x="194.00" y="899.60" font-size="12.6" text-anchor="middle" textLength="143.2" lengthAdjust="spacingAndGlyphs">Lateral noise, <tspan font-style="italic">σ</tspan><tspan font-style="italic" font-size="8.6" dy="3">x,y−</tspan><tspan dy="-3"> (nm)</tspan></text>
<text x="20.90" y="753.60" font-size="12.6" text-anchor="middle" textLength="130.5" lengthAdjust="spacingAndGlyphs" transform="rotate(-90 20.90 753.60)">Depth noise, <tspan font-style="italic">σ</tspan><tspan font-style="italic" font-size="8.6" dy="3">z−</tspan><tspan dy="-3"> (nm)</tspan></text>
<text x="333.70" y="631.60" font-size="12.4" textLength="59.50" lengthAdjust="spacingAndGlyphs">|SRO| (|<tspan font-style="italic">α</tspan>|)</text>
<rect x="326.60" y="647.30" width="11.20" height="218.60" fill="url(#cbe)" stroke="#5a5a5a" stroke-width="0.9"/>
<text x="343.70" y="651.20" font-size="11.0" textLength="37.73" lengthAdjust="spacingAndGlyphs">0.0010</text>
<line x1="335.30" y1="669.16" x2="337.80" y2="669.16" stroke="#222" stroke-width="1"/>
<text x="343.70" y="673.06" font-size="11.0" textLength="40.37" lengthAdjust="spacingAndGlyphs">0.0009</text>
<line x1="335.30" y1="691.02" x2="337.80" y2="691.02" stroke="#222" stroke-width="1"/>
<text x="343.70" y="694.92" font-size="11.0" textLength="40.37" lengthAdjust="spacingAndGlyphs">0.0008</text>
<line x1="335.30" y1="712.88" x2="337.80" y2="712.88" stroke="#222" stroke-width="1"/>
<text x="343.70" y="716.78" font-size="11.0" textLength="40.37" lengthAdjust="spacingAndGlyphs">0.0007</text>
<line x1="335.30" y1="734.74" x2="337.80" y2="734.74" stroke="#222" stroke-width="1"/>
<text x="343.70" y="738.64" font-size="11.0" textLength="40.37" lengthAdjust="spacingAndGlyphs">0.0006</text>
<line x1="335.30" y1="756.60" x2="337.80" y2="756.60" stroke="#222" stroke-width="1"/>
<text x="343.70" y="760.50" font-size="11.0" textLength="40.37" lengthAdjust="spacingAndGlyphs">0.0005</text>
<line x1="335.30" y1="778.46" x2="337.80" y2="778.46" stroke="#222" stroke-width="1"/>
<text x="343.70" y="782.36" font-size="11.0" textLength="40.37" lengthAdjust="spacingAndGlyphs">0.0004</text>
<line x1="335.30" y1="800.32" x2="337.80" y2="800.32" stroke="#222" stroke-width="1"/>
<text x="343.70" y="804.22" font-size="11.0" textLength="40.37" lengthAdjust="spacingAndGlyphs">0.0003</text>
<line x1="335.30" y1="822.18" x2="337.80" y2="822.18" stroke="#222" stroke-width="1"/>
<text x="343.70" y="826.08" font-size="11.0" textLength="40.37" lengthAdjust="spacingAndGlyphs">0.0002</text>
<line x1="335.30" y1="844.04" x2="337.80" y2="844.04" stroke="#222" stroke-width="1"/>
<text x="343.70" y="847.94" font-size="11.0" textLength="37.73" lengthAdjust="spacingAndGlyphs">0.0001</text>
<text x="343.70" y="869.80" font-size="11.0" textLength="7.70" lengthAdjust="spacingAndGlyphs">0</text>
<text x="416.60" y="629.30" font-size="20" font-weight="bold" style="stroke:#000;stroke-width:0.4;fill:#000">f</text>
<rect x="477.20" y="647.20" width="248.80" height="218.10" fill="url(#hft)"/>
<rect x="477.20" y="647.20" width="248.80" height="218.10" fill="url(#hfb)" mask="url(#hfm)"/>
<line x1="651.30" y1="648.20" x2="651.30" y2="865.30" stroke="#ffffff" stroke-width="1.2" stroke-dasharray="4 2.5"/>
<rect x="477.20" y="647.20" width="248.80" height="218.10" fill="none" stroke="#5a4a40" stroke-width="1"/>
<text x="718.60" y="667.50" font-size="12.4" text-anchor="end" textLength="203.40" lengthAdjust="spacingAndGlyphs">Non-random + 57% detection eff.</text>
<text x="718.60" y="683.00" font-size="12.4" text-anchor="end" textLength="45.60" lengthAdjust="spacingAndGlyphs">kNN = 7</text>
<text x="492.50" y="854.00" font-size="12.4" textLength="102.70" lengthAdjust="spacingAndGlyphs">~0 ≤ |<tspan font-style="italic">α</tspan>| ≤ 0.0390</text>
<text x="468.20" y="649.30" font-size="11.5" text-anchor="end" textLength="21.92" lengthAdjust="spacingAndGlyphs">0.10</text>
<text x="468.20" y="693.65" font-size="11.5" text-anchor="end" textLength="24.52" lengthAdjust="spacingAndGlyphs">0.08</text>
<text x="468.20" y="738.00" font-size="11.5" text-anchor="end" textLength="24.52" lengthAdjust="spacingAndGlyphs">0.06</text>
<text x="468.20" y="782.35" font-size="11.5" text-anchor="end" textLength="24.52" lengthAdjust="spacingAndGlyphs">0.04</text>
<text x="468.20" y="826.70" font-size="11.5" text-anchor="end" textLength="24.52" lengthAdjust="spacingAndGlyphs">0.02</text>
<text x="468.20" y="871.05" font-size="11.5" text-anchor="end" textLength="7.56" lengthAdjust="spacingAndGlyphs">0</text>
<text x="477.00" y="882.20" font-size="11.5" text-anchor="middle" textLength="7.56" lengthAdjust="spacingAndGlyphs">0</text>
<text x="526.80" y="882.20" font-size="11.5" text-anchor="middle" textLength="23.44" lengthAdjust="spacingAndGlyphs">0.25</text>
<text x="576.60" y="882.20" font-size="11.5" text-anchor="middle" textLength="24.52" lengthAdjust="spacingAndGlyphs">0.50</text>
<text x="626.40" y="882.20" font-size="11.5" text-anchor="middle" textLength="23.44" lengthAdjust="spacingAndGlyphs">0.75</text>
<text x="676.20" y="882.20" font-size="11.5" text-anchor="middle" textLength="21.92" lengthAdjust="spacingAndGlyphs">1.00</text>
<text x="726.00" y="882.20" font-size="11.5" text-anchor="middle" textLength="19.76" lengthAdjust="spacingAndGlyphs">1.25</text>
<text x="601.60" y="903.30" font-size="12.6" text-anchor="middle" textLength="143.2" lengthAdjust="spacingAndGlyphs">Lateral noise, <tspan font-style="italic">σ</tspan><tspan font-style="italic" font-size="8.6" dy="3">x,y−</tspan><tspan dy="-3"> (nm)</tspan></text>
<text x="430.30" y="757.30" font-size="12.6" text-anchor="middle" textLength="130.5" lengthAdjust="spacingAndGlyphs" transform="rotate(-90 430.30 757.30)">Depth noise, <tspan font-style="italic">σ</tspan><tspan font-style="italic" font-size="8.6" dy="3">z−</tspan><tspan dy="-3"> (nm)</tspan></text>
<text x="724.70" y="632.70" font-size="12.4" textLength="60.20" lengthAdjust="spacingAndGlyphs">|SRO| (|<tspan font-style="italic">α</tspan>|)</text>
<rect x="736.80" y="653.20" width="10.90" height="214.60" fill="url(#cbf)" stroke="#5a5a5a" stroke-width="0.9"/>
<text x="752.00" y="657.10" font-size="11.0" textLength="32.67" lengthAdjust="spacingAndGlyphs">0.050</text>
<line x1="745.20" y1="674.66" x2="747.70" y2="674.66" stroke="#222" stroke-width="1"/>
<text x="752.00" y="678.56" font-size="11.0" textLength="31.57" lengthAdjust="spacingAndGlyphs">0.045</text>
<line x1="745.20" y1="696.12" x2="747.70" y2="696.12" stroke="#222" stroke-width="1"/>
<text x="752.00" y="700.02" font-size="11.0" textLength="32.67" lengthAdjust="spacingAndGlyphs">0.040</text>
<line x1="745.20" y1="717.58" x2="747.70" y2="717.58" stroke="#222" stroke-width="1"/>
<text x="752.00" y="721.48" font-size="11.0" textLength="31.57" lengthAdjust="spacingAndGlyphs">0.035</text>
<line x1="745.20" y1="739.04" x2="747.70" y2="739.04" stroke="#222" stroke-width="1"/>
<text x="752.00" y="742.94" font-size="11.0" textLength="32.67" lengthAdjust="spacingAndGlyphs">0.030</text>
<line x1="745.20" y1="760.50" x2="747.70" y2="760.50" stroke="#222" stroke-width="1"/>
<text x="752.00" y="764.40" font-size="11.0" textLength="31.57" lengthAdjust="spacingAndGlyphs">0.025</text>
<line x1="745.20" y1="781.96" x2="747.70" y2="781.96" stroke="#222" stroke-width="1"/>
<text x="752.00" y="785.86" font-size="11.0" textLength="32.67" lengthAdjust="spacingAndGlyphs">0.020</text>
<line x1="745.20" y1="803.42" x2="747.70" y2="803.42" stroke="#222" stroke-width="1"/>
<text x="752.00" y="807.32" font-size="11.0" textLength="28.93" lengthAdjust="spacingAndGlyphs">0.015</text>
<line x1="745.20" y1="824.88" x2="747.70" y2="824.88" stroke="#222" stroke-width="1"/>
<text x="752.00" y="828.78" font-size="11.0" textLength="30.03" lengthAdjust="spacingAndGlyphs">0.010</text>
<line x1="745.20" y1="846.34" x2="747.70" y2="846.34" stroke="#222" stroke-width="1"/>
<text x="752.00" y="850.24" font-size="11.0" textLength="32.67" lengthAdjust="spacingAndGlyphs">0.005</text>
<text x="752.00" y="871.70" font-size="11.0" textLength="7.70" lengthAdjust="spacingAndGlyphs">0</text>
<text x="226.60" y="935.40" font-size="20" font-weight="bold" style="stroke:#000;stroke-width:0.4;fill:#000">g</text>
<rect x="285.80" y="930.20" width="257.40" height="201.00" fill="#fbe3d6"/>
<path d="M285.80,941.10 L287.80,941.10 L330.40,1013.30 L360.50,1030.50 L389.10,1047.90 L423.70,1067.80 L454.20,1092.60 L502.60,1110.20 L517.70,1118.20 L540.50,1126.40 L543.20,1127.40 L543.20,1131.20 L285.80,1131.20 Z" fill="#dfeed6"/>
<path d="M287.50,932.30 L331.10,1001.20 L375.80,1033.30 L424.60,1063.00 L454.20,1088.50 L502.20,1105.20 L540.50,1121.20" fill="none" stroke="#767676" stroke-width="1.5" stroke-dasharray="6 6.5"/>
<path d="M287.50,948.80 L328.30,1022.10 L380.50,1050.90 L420.00,1072.00 L454.20,1097.20 L502.20,1113.90 L540.50,1130.30" fill="none" stroke="#767676" stroke-width="1.5" stroke-dasharray="6 6.5"/>
<path d="M287.80,941.10 L330.40,1013.30 L360.50,1030.50 L389.10,1047.90 L423.70,1067.80 L454.20,1092.60 L502.60,1110.20 L517.70,1118.20 L540.50,1126.40" fill="none" stroke="#6f6f6f" stroke-width="1.6"/>
<circle cx="304.6" cy="969.4" r="1.3" fill="#6f6f6f"/>
<circle cx="360.4" cy="1030.6" r="1.3" fill="#6f6f6f"/>
<circle cx="389.1" cy="1047.9" r="1.3" fill="#6f6f6f"/>
<circle cx="423.7" cy="1067.8" r="1.3" fill="#6f6f6f"/>
<circle cx="517.7" cy="1118.2" r="1.3" fill="#6f6f6f"/>
<line x1="288.50" y1="1050.90" x2="380.50" y2="1050.90" stroke="#4a6fb0" stroke-width="1.4" stroke-dasharray="4.5 3.5"/>
<line x1="288.50" y1="1093.70" x2="449.60" y2="1093.70" stroke="#4a6fb0" stroke-width="1.4" stroke-dasharray="4.5 3.5"/>
<text x="294.70" y="1045.60" font-size="12.2" textLength="27.90" lengthAdjust="spacingAndGlyphs">0.50</text>
<text x="291.90" y="1107.60" font-size="12.2" textLength="25.90" lengthAdjust="spacingAndGlyphs">0.25</text>
<text x="337.20" y="1076.80" font-size="12.2" textLength="18.00" lengthAdjust="spacingAndGlyphs">Go</text>
<text x="448.50" y="1012.50" font-size="12.2" textLength="38.20" lengthAdjust="spacingAndGlyphs">No-go</text>
<line x1="285.50" y1="929.50" x2="546.30" y2="929.50" stroke="#444" stroke-width="1"/>
<line x1="546.30" y1="929.50" x2="546.30" y2="1140.50" stroke="#707070" stroke-width="1"/>
<line x1="285.50" y1="929.50" x2="285.50" y2="1135.50" stroke="#808080" stroke-width="1.3"/>
<line x1="280.50" y1="1135.50" x2="546.30" y2="1135.50" stroke="#808080" stroke-width="1.2"/>
<line x1="280.50" y1="1135.40" x2="285.50" y2="1135.40" stroke="#5a5a5a" stroke-width="1"/>
<text x="275.60" y="1139.40" font-size="11.8" text-anchor="end" textLength="7.70" lengthAdjust="spacingAndGlyphs">0</text>
<line x1="280.50" y1="1101.72" x2="285.50" y2="1101.72" stroke="#5a5a5a" stroke-width="1"/>
<text x="275.60" y="1105.72" font-size="11.8" text-anchor="end" textLength="17.27" lengthAdjust="spacingAndGlyphs">0.2</text>
<line x1="280.50" y1="1068.04" x2="285.50" y2="1068.04" stroke="#5a5a5a" stroke-width="1"/>
<text x="275.60" y="1072.04" font-size="11.8" text-anchor="end" textLength="17.27" lengthAdjust="spacingAndGlyphs">0.4</text>
<line x1="280.50" y1="1034.36" x2="285.50" y2="1034.36" stroke="#5a5a5a" stroke-width="1"/>
<text x="275.60" y="1038.36" font-size="11.8" text-anchor="end" textLength="17.27" lengthAdjust="spacingAndGlyphs">0.6</text>
<line x1="280.50" y1="1000.68" x2="285.50" y2="1000.68" stroke="#5a5a5a" stroke-width="1"/>
<text x="275.60" y="1004.68" font-size="11.8" text-anchor="end" textLength="17.27" lengthAdjust="spacingAndGlyphs">0.8</text>
<line x1="280.50" y1="967.00" x2="285.50" y2="967.00" stroke="#5a5a5a" stroke-width="1"/>
<text x="275.60" y="971.00" font-size="11.8" text-anchor="end" textLength="14.63" lengthAdjust="spacingAndGlyphs">1.0</text>
<line x1="280.50" y1="933.32" x2="285.50" y2="933.32" stroke="#5a5a5a" stroke-width="1"/>
<text x="275.60" y="937.32" font-size="11.8" text-anchor="end" textLength="13.53" lengthAdjust="spacingAndGlyphs">1.2</text>
<line x1="289.70" y1="1135.50" x2="289.70" y2="1140.50" stroke="#5a5a5a" stroke-width="1"/>
<line x1="415.30" y1="1135.50" x2="415.30" y2="1140.50" stroke="#5a5a5a" stroke-width="1"/>
<line x1="540.90" y1="1135.50" x2="540.90" y2="1140.50" stroke="#5a5a5a" stroke-width="1"/>
<line x1="377.49" y1="1135.50" x2="377.49" y2="1138.50" stroke="#5a5a5a" stroke-width="1"/>
<line x1="355.37" y1="1135.50" x2="355.37" y2="1138.50" stroke="#5a5a5a" stroke-width="1"/>
<line x1="339.68" y1="1135.50" x2="339.68" y2="1138.50" stroke="#5a5a5a" stroke-width="1"/>
<line x1="327.51" y1="1135.50" x2="327.51" y2="1138.50" stroke="#5a5a5a" stroke-width="1"/>
<line x1="317.56" y1="1135.50" x2="317.56" y2="1138.50" stroke="#5a5a5a" stroke-width="1"/>
<line x1="309.16" y1="1135.50" x2="309.16" y2="1138.50" stroke="#5a5a5a" stroke-width="1"/>
<line x1="301.87" y1="1135.50" x2="301.87" y2="1138.50" stroke="#5a5a5a" stroke-width="1"/>
<line x1="295.45" y1="1135.50" x2="295.45" y2="1138.50" stroke="#5a5a5a" stroke-width="1"/>
<line x1="503.09" y1="1135.50" x2="503.09" y2="1138.50" stroke="#5a5a5a" stroke-width="1"/>
<line x1="480.97" y1="1135.50" x2="480.97" y2="1138.50" stroke="#5a5a5a" stroke-width="1"/>
<line x1="465.28" y1="1135.50" x2="465.28" y2="1138.50" stroke="#5a5a5a" stroke-width="1"/>
<line x1="453.11" y1="1135.50" x2="453.11" y2="1138.50" stroke="#5a5a5a" stroke-width="1"/>
<line x1="443.16" y1="1135.50" x2="443.16" y2="1138.50" stroke="#5a5a5a" stroke-width="1"/>
<line x1="434.76" y1="1135.50" x2="434.76" y2="1138.50" stroke="#5a5a5a" stroke-width="1"/>
<line x1="427.47" y1="1135.50" x2="427.47" y2="1138.50" stroke="#5a5a5a" stroke-width="1"/>
<line x1="421.05" y1="1135.50" x2="421.05" y2="1138.50" stroke="#5a5a5a" stroke-width="1"/>
<text x="289.85" y="1156.30" font-size="10.8" text-anchor="middle" textLength="14.10" lengthAdjust="spacingAndGlyphs">0.1</text>
<text x="417.50" y="1156.30" font-size="10.8" text-anchor="middle" textLength="21.92" lengthAdjust="spacingAndGlyphs">0.01</text>
<text x="545.80" y="1156.30" font-size="10.8" text-anchor="middle" textLength="29.21" lengthAdjust="spacingAndGlyphs">0.001</text>
<text x="373.00" y="1175.50" font-size="12.4" textLength="84.60" lengthAdjust="spacingAndGlyphs">SRO value, |<tspan font-style="italic">α</tspan>|</text>
<text x="243.7" y="1031.7" font-size="12.4" text-anchor="middle" textLength="137.5" lengthAdjust="spacingAndGlyphs" transform="rotate(-90 243.7 1031.7)">Lateral noise, <tspan font-style="italic">σ</tspan><tspan font-style="italic" font-size="8.4" dy="3">x,y−</tspan><tspan dy="-3"> (nm)</tspan></text>
</svg>
</body></html>
